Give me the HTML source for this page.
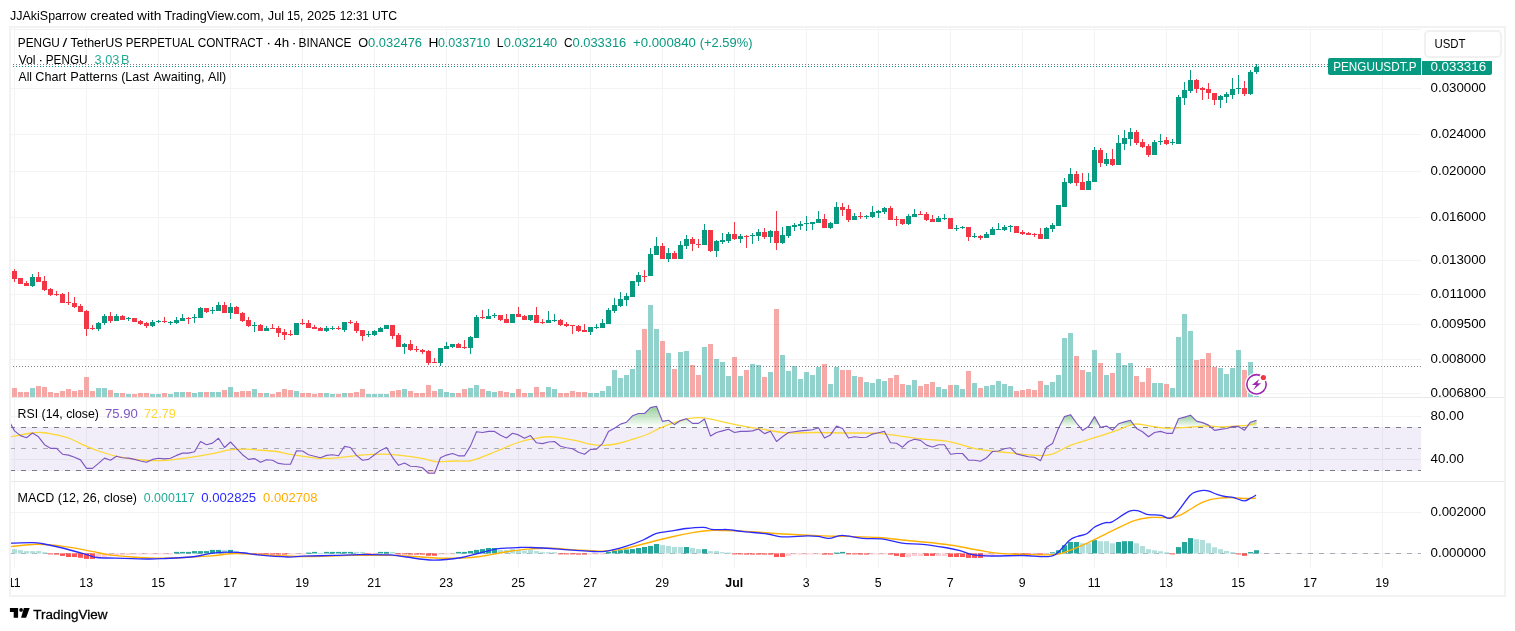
<!DOCTYPE html><html><head><meta charset="utf-8"><title>PENGUUSDT.P chart</title><style>html,body{margin:0;padding:0;background:#fff;width:1515px;height:631px;overflow:hidden}svg{display:block;will-change:transform}text{font-family:"Liberation Sans",sans-serif}</style></head><body><svg width="1515" height="631" viewBox="0 0 1515 631"><defs><clipPath id="timec"><rect x="11" y="568" width="1493" height="27"/></clipPath><clipPath id="pane"><rect x="11" y="28" width="1410" height="540"/></clipPath><clipPath id="mainc"><rect x="11" y="28" width="1410" height="369"/></clipPath><clipPath id="rsic"><rect x="11" y="398" width="1410" height="83"/></clipPath><clipPath id="macdc"><rect x="11" y="482" width="1410" height="86"/></clipPath><linearGradient id="ob" x1="0" y1="0" x2="0" y2="1"><stop offset="0" stop-color="#4caf50" stop-opacity="0.6"/><stop offset="1" stop-color="#4caf50" stop-opacity="0"/></linearGradient></defs><text x="10.11" y="20" font-size="13" fill="#000000" textLength="76.06" lengthAdjust="spacingAndGlyphs">JJAkiSparrow</text><text x="90.28" y="20" font-size="13" fill="#000000" textLength="43.61" lengthAdjust="spacingAndGlyphs">created</text><text x="137.00" y="20" font-size="13" fill="#000000" textLength="24.37" lengthAdjust="spacingAndGlyphs">with</text><text x="164.45" y="20" font-size="13" fill="#000000" textLength="99.36" lengthAdjust="spacingAndGlyphs">TradingView.com,</text><text x="267.81" y="20" font-size="13" fill="#000000" textLength="16.26" lengthAdjust="spacingAndGlyphs">Jul</text><text x="286.91" y="20" font-size="13" fill="#000000" textLength="16.45" lengthAdjust="spacingAndGlyphs">15,</text><text x="306.95" y="20" font-size="13" fill="#000000" textLength="28.86" lengthAdjust="spacingAndGlyphs">2025</text><text x="339.73" y="20" font-size="13" fill="#000000" textLength="29.13" lengthAdjust="spacingAndGlyphs">12:31</text><text x="371.98" y="20" font-size="13" fill="#000000" textLength="25.15" lengthAdjust="spacingAndGlyphs">UTC</text><rect x="10" y="27" width="1495" height="569" fill="none" stroke="#f2f2f2" stroke-width="2"/><rect x="14" y="28" width="1" height="540" fill="#f3f3f3"/><rect x="86" y="28" width="1" height="540" fill="#f3f3f3"/><rect x="158" y="28" width="1" height="540" fill="#f3f3f3"/><rect x="230" y="28" width="1" height="540" fill="#f3f3f3"/><rect x="302" y="28" width="1" height="540" fill="#f3f3f3"/><rect x="374" y="28" width="1" height="540" fill="#f3f3f3"/><rect x="446" y="28" width="1" height="540" fill="#f3f3f3"/><rect x="518" y="28" width="1" height="540" fill="#f3f3f3"/><rect x="590" y="28" width="1" height="540" fill="#f3f3f3"/><rect x="662" y="28" width="1" height="540" fill="#f3f3f3"/><rect x="734" y="28" width="1" height="540" fill="#f3f3f3"/><rect x="806" y="28" width="1" height="540" fill="#f3f3f3"/><rect x="878" y="28" width="1" height="540" fill="#f3f3f3"/><rect x="950" y="28" width="1" height="540" fill="#f3f3f3"/><rect x="1022" y="28" width="1" height="540" fill="#f3f3f3"/><rect x="1094" y="28" width="1" height="540" fill="#f3f3f3"/><rect x="1166" y="28" width="1" height="540" fill="#f3f3f3"/><rect x="1238" y="28" width="1" height="540" fill="#f3f3f3"/><rect x="1310" y="28" width="1" height="540" fill="#f3f3f3"/><rect x="1382" y="28" width="1" height="540" fill="#f3f3f3"/><rect x="11" y="29" width="1410" height="1" fill="#f3f3f3"/><rect x="11" y="88" width="1410" height="1" fill="#f3f3f3"/><rect x="11" y="134" width="1410" height="1" fill="#f3f3f3"/><rect x="11" y="171" width="1410" height="1" fill="#f3f3f3"/><rect x="11" y="217" width="1410" height="1" fill="#f3f3f3"/><rect x="11" y="260" width="1410" height="1" fill="#f3f3f3"/><rect x="11" y="294" width="1410" height="1" fill="#f3f3f3"/><rect x="11" y="324" width="1410" height="1" fill="#f3f3f3"/><rect x="11" y="359" width="1410" height="1" fill="#f3f3f3"/><rect x="11" y="393" width="1410" height="1" fill="#f3f3f3"/><rect x="11" y="416" width="1410" height="1" fill="#f3f3f3"/><rect x="11" y="459" width="1410" height="1" fill="#f3f3f3"/><rect x="11" y="512" width="1410" height="1" fill="#f3f3f3"/><rect x="11" y="553" width="1410" height="1" fill="#f3f3f3"/><rect x="11" y="397" width="1493" height="1" fill="#e9e9ea"/><rect x="11" y="481" width="1493" height="1" fill="#e9e9ea"/><g clip-path="url(#mainc)" shape-rendering="crispEdges"><rect x="6" y="382.1" width="5" height="14.9" fill="rgba(38,166,154,0.5)"/><rect x="12" y="388.0" width="5" height="9.0" fill="rgba(239,83,80,0.5)"/><rect x="18" y="391.9" width="5" height="5.1" fill="rgba(239,83,80,0.5)"/><rect x="24" y="391.9" width="5" height="5.1" fill="rgba(239,83,80,0.5)"/><rect x="30" y="388.0" width="5" height="9.0" fill="rgba(38,166,154,0.5)"/><rect x="36" y="385.9" width="5" height="11.1" fill="rgba(239,83,80,0.5)"/><rect x="42" y="386.9" width="5" height="10.1" fill="rgba(239,83,80,0.5)"/><rect x="48" y="391.9" width="5" height="5.1" fill="rgba(239,83,80,0.5)"/><rect x="54" y="393.0" width="5" height="4.0" fill="rgba(239,83,80,0.5)"/><rect x="60" y="390.8" width="5" height="6.2" fill="rgba(239,83,80,0.5)"/><rect x="66" y="388.9" width="5" height="8.1" fill="rgba(239,83,80,0.5)"/><rect x="72" y="390.8" width="5" height="6.2" fill="rgba(239,83,80,0.5)"/><rect x="78" y="389.9" width="5" height="7.1" fill="rgba(239,83,80,0.5)"/><rect x="84" y="376.9" width="5" height="20.1" fill="rgba(239,83,80,0.5)"/><rect x="90" y="390.8" width="5" height="6.2" fill="rgba(239,83,80,0.5)"/><rect x="96" y="388.0" width="5" height="9.0" fill="rgba(38,166,154,0.5)"/><rect x="102" y="388.0" width="5" height="9.0" fill="rgba(38,166,154,0.5)"/><rect x="108" y="389.9" width="5" height="7.1" fill="rgba(239,83,80,0.5)"/><rect x="114" y="393.0" width="5" height="4.0" fill="rgba(38,166,154,0.5)"/><rect x="120" y="393.0" width="5" height="4.0" fill="rgba(239,83,80,0.5)"/><rect x="126" y="394.0" width="5" height="3.0" fill="rgba(38,166,154,0.5)"/><rect x="132" y="394.0" width="5" height="3.0" fill="rgba(239,83,80,0.5)"/><rect x="138" y="393.0" width="5" height="4.0" fill="rgba(239,83,80,0.5)"/><rect x="144" y="393.0" width="5" height="4.0" fill="rgba(239,83,80,0.5)"/><rect x="150" y="394.0" width="5" height="3.0" fill="rgba(38,166,154,0.5)"/><rect x="156" y="394.0" width="5" height="3.0" fill="rgba(38,166,154,0.5)"/><rect x="162" y="393.0" width="5" height="4.0" fill="rgba(239,83,80,0.5)"/><rect x="168" y="394.0" width="5" height="3.0" fill="rgba(38,166,154,0.5)"/><rect x="174" y="392.0" width="5" height="5.0" fill="rgba(38,166,154,0.5)"/><rect x="180" y="392.0" width="5" height="5.0" fill="rgba(38,166,154,0.5)"/><rect x="186" y="392.0" width="5" height="5.0" fill="rgba(239,83,80,0.5)"/><rect x="192" y="393.0" width="5" height="4.0" fill="rgba(38,166,154,0.5)"/><rect x="198" y="392.0" width="5" height="5.0" fill="rgba(38,166,154,0.5)"/><rect x="204" y="392.0" width="5" height="5.0" fill="rgba(239,83,80,0.5)"/><rect x="210" y="392.0" width="5" height="5.0" fill="rgba(38,166,154,0.5)"/><rect x="216" y="392.0" width="5" height="5.0" fill="rgba(38,166,154,0.5)"/><rect x="222" y="389.9" width="5" height="7.1" fill="rgba(239,83,80,0.5)"/><rect x="228" y="386.9" width="5" height="10.1" fill="rgba(38,166,154,0.5)"/><rect x="234" y="392.0" width="5" height="5.0" fill="rgba(239,83,80,0.5)"/><rect x="240" y="390.8" width="5" height="6.2" fill="rgba(239,83,80,0.5)"/><rect x="246" y="390.8" width="5" height="6.2" fill="rgba(239,83,80,0.5)"/><rect x="252" y="389.0" width="5" height="8.0" fill="rgba(38,166,154,0.5)"/><rect x="258" y="393.0" width="5" height="4.0" fill="rgba(239,83,80,0.5)"/><rect x="264" y="393.0" width="5" height="4.0" fill="rgba(38,166,154,0.5)"/><rect x="270" y="394.0" width="5" height="3.0" fill="rgba(239,83,80,0.5)"/><rect x="276" y="392.0" width="5" height="5.0" fill="rgba(239,83,80,0.5)"/><rect x="282" y="389.0" width="5" height="8.0" fill="rgba(239,83,80,0.5)"/><rect x="288" y="390.0" width="5" height="7.0" fill="rgba(239,83,80,0.5)"/><rect x="294" y="390.8" width="5" height="6.2" fill="rgba(38,166,154,0.5)"/><rect x="300" y="393.0" width="5" height="4.0" fill="rgba(239,83,80,0.5)"/><rect x="306" y="393.0" width="5" height="4.0" fill="rgba(239,83,80,0.5)"/><rect x="312" y="394.0" width="5" height="3.0" fill="rgba(239,83,80,0.5)"/><rect x="318" y="393.0" width="5" height="4.0" fill="rgba(239,83,80,0.5)"/><rect x="324" y="393.0" width="5" height="4.0" fill="rgba(38,166,154,0.5)"/><rect x="330" y="394.0" width="5" height="3.0" fill="rgba(38,166,154,0.5)"/><rect x="336" y="394.0" width="5" height="3.0" fill="rgba(239,83,80,0.5)"/><rect x="342" y="393.0" width="5" height="4.0" fill="rgba(38,166,154,0.5)"/><rect x="348" y="393.0" width="5" height="4.0" fill="rgba(239,83,80,0.5)"/><rect x="354" y="392.0" width="5" height="5.0" fill="rgba(239,83,80,0.5)"/><rect x="360" y="389.0" width="5" height="8.0" fill="rgba(239,83,80,0.5)"/><rect x="366" y="394.0" width="5" height="3.0" fill="rgba(38,166,154,0.5)"/><rect x="372" y="394.0" width="5" height="3.0" fill="rgba(38,166,154,0.5)"/><rect x="378" y="394.0" width="5" height="3.0" fill="rgba(38,166,154,0.5)"/><rect x="384" y="394.0" width="5" height="3.0" fill="rgba(38,166,154,0.5)"/><rect x="390" y="390.8" width="5" height="6.2" fill="rgba(239,83,80,0.5)"/><rect x="396" y="389.9" width="5" height="7.1" fill="rgba(239,83,80,0.5)"/><rect x="402" y="389.0" width="5" height="8.0" fill="rgba(38,166,154,0.5)"/><rect x="408" y="390.8" width="5" height="6.2" fill="rgba(239,83,80,0.5)"/><rect x="414" y="393.0" width="5" height="4.0" fill="rgba(239,83,80,0.5)"/><rect x="420" y="393.0" width="5" height="4.0" fill="rgba(239,83,80,0.5)"/><rect x="426" y="385.0" width="5" height="12.0" fill="rgba(239,83,80,0.5)"/><rect x="432" y="390.8" width="5" height="6.2" fill="rgba(239,83,80,0.5)"/><rect x="438" y="389.0" width="5" height="8.0" fill="rgba(38,166,154,0.5)"/><rect x="444" y="392.0" width="5" height="5.0" fill="rgba(38,166,154,0.5)"/><rect x="450" y="393.0" width="5" height="4.0" fill="rgba(38,166,154,0.5)"/><rect x="456" y="393.0" width="5" height="4.0" fill="rgba(239,83,80,0.5)"/><rect x="462" y="389.0" width="5" height="8.0" fill="rgba(239,83,80,0.5)"/><rect x="468" y="388.0" width="5" height="9.0" fill="rgba(38,166,154,0.5)"/><rect x="474" y="385.0" width="5" height="12.0" fill="rgba(38,166,154,0.5)"/><rect x="480" y="389.1" width="5" height="7.9" fill="rgba(239,83,80,0.5)"/><rect x="486" y="391.2" width="5" height="5.8" fill="rgba(38,166,154,0.5)"/><rect x="492" y="392.1" width="5" height="4.9" fill="rgba(38,166,154,0.5)"/><rect x="498" y="391.2" width="5" height="5.8" fill="rgba(239,83,80,0.5)"/><rect x="504" y="392.1" width="5" height="4.9" fill="rgba(239,83,80,0.5)"/><rect x="510" y="393.1" width="5" height="3.9" fill="rgba(38,166,154,0.5)"/><rect x="516" y="389.1" width="5" height="7.9" fill="rgba(239,83,80,0.5)"/><rect x="522" y="393.1" width="5" height="3.9" fill="rgba(239,83,80,0.5)"/><rect x="528" y="393.1" width="5" height="3.9" fill="rgba(38,166,154,0.5)"/><rect x="534" y="387.0" width="5" height="10.0" fill="rgba(239,83,80,0.5)"/><rect x="540" y="392.1" width="5" height="4.9" fill="rgba(239,83,80,0.5)"/><rect x="546" y="387.0" width="5" height="10.0" fill="rgba(38,166,154,0.5)"/><rect x="552" y="389.1" width="5" height="7.9" fill="rgba(38,166,154,0.5)"/><rect x="558" y="393.1" width="5" height="3.9" fill="rgba(239,83,80,0.5)"/><rect x="564" y="393.1" width="5" height="3.9" fill="rgba(239,83,80,0.5)"/><rect x="570" y="391.2" width="5" height="5.8" fill="rgba(239,83,80,0.5)"/><rect x="576" y="392.1" width="5" height="4.9" fill="rgba(239,83,80,0.5)"/><rect x="582" y="392.1" width="5" height="4.9" fill="rgba(239,83,80,0.5)"/><rect x="588" y="393.1" width="5" height="3.9" fill="rgba(38,166,154,0.5)"/><rect x="594" y="393.1" width="5" height="3.9" fill="rgba(38,166,154,0.5)"/><rect x="600" y="391.2" width="5" height="5.8" fill="rgba(38,166,154,0.5)"/><rect x="606" y="386.1" width="5" height="10.9" fill="rgba(38,166,154,0.5)"/><rect x="612" y="370.1" width="5" height="26.9" fill="rgba(38,166,154,0.5)"/><rect x="618" y="378.0" width="5" height="19.0" fill="rgba(38,166,154,0.5)"/><rect x="624" y="375.0" width="5" height="22.0" fill="rgba(38,166,154,0.5)"/><rect x="630" y="369.0" width="5" height="28.0" fill="rgba(38,166,154,0.5)"/><rect x="636" y="350.1" width="5" height="46.9" fill="rgba(38,166,154,0.5)"/><rect x="642" y="329.0" width="5" height="68.0" fill="rgba(239,83,80,0.5)"/><rect x="648" y="305.1" width="5" height="91.9" fill="rgba(38,166,154,0.5)"/><rect x="654" y="329.0" width="5" height="68.0" fill="rgba(38,166,154,0.5)"/><rect x="660" y="341.1" width="5" height="55.9" fill="rgba(239,83,80,0.5)"/><rect x="666" y="353.1" width="5" height="43.9" fill="rgba(38,166,154,0.5)"/><rect x="672" y="369.0" width="5" height="28.0" fill="rgba(239,83,80,0.5)"/><rect x="678" y="352.0" width="5" height="45.0" fill="rgba(38,166,154,0.5)"/><rect x="684" y="351.0" width="5" height="46.0" fill="rgba(38,166,154,0.5)"/><rect x="690" y="365.0" width="5" height="32.0" fill="rgba(239,83,80,0.5)"/><rect x="696" y="375.0" width="5" height="22.0" fill="rgba(239,83,80,0.5)"/><rect x="702" y="347.1" width="5" height="49.9" fill="rgba(38,166,154,0.5)"/><rect x="708" y="344.1" width="5" height="52.9" fill="rgba(239,83,80,0.5)"/><rect x="714" y="359.0" width="5" height="38.0" fill="rgba(38,166,154,0.5)"/><rect x="720" y="362.1" width="5" height="34.9" fill="rgba(38,166,154,0.5)"/><rect x="726" y="376.1" width="5" height="20.9" fill="rgba(38,166,154,0.5)"/><rect x="732" y="357.1" width="5" height="39.9" fill="rgba(239,83,80,0.5)"/><rect x="738" y="376.1" width="5" height="20.9" fill="rgba(38,166,154,0.5)"/><rect x="744" y="370.1" width="5" height="26.9" fill="rgba(239,83,80,0.5)"/><rect x="750" y="364.0" width="5" height="33.0" fill="rgba(38,166,154,0.5)"/><rect x="756" y="365.0" width="5" height="32.0" fill="rgba(38,166,154,0.5)"/><rect x="762" y="377.0" width="5" height="20.0" fill="rgba(239,83,80,0.5)"/><rect x="768" y="372.1" width="5" height="24.9" fill="rgba(38,166,154,0.5)"/><rect x="774" y="309.0" width="5" height="88.0" fill="rgba(239,83,80,0.5)"/><rect x="780" y="355.0" width="5" height="42.0" fill="rgba(38,166,154,0.5)"/><rect x="786" y="371.0" width="5" height="26.0" fill="rgba(38,166,154,0.5)"/><rect x="792" y="366.1" width="5" height="30.9" fill="rgba(38,166,154,0.5)"/><rect x="798" y="379.0" width="5" height="18.0" fill="rgba(38,166,154,0.5)"/><rect x="804" y="372.1" width="5" height="24.9" fill="rgba(38,166,154,0.5)"/><rect x="810" y="375.0" width="5" height="22.0" fill="rgba(38,166,154,0.5)"/><rect x="816" y="367.1" width="5" height="29.9" fill="rgba(38,166,154,0.5)"/><rect x="822" y="364.0" width="5" height="33.0" fill="rgba(239,83,80,0.5)"/><rect x="828" y="384.0" width="5" height="13.0" fill="rgba(38,166,154,0.5)"/><rect x="834" y="367.1" width="5" height="29.9" fill="rgba(38,166,154,0.5)"/><rect x="840" y="370.1" width="5" height="26.9" fill="rgba(239,83,80,0.5)"/><rect x="846" y="370.1" width="5" height="26.9" fill="rgba(239,83,80,0.5)"/><rect x="852" y="376.1" width="5" height="20.9" fill="rgba(38,166,154,0.5)"/><rect x="858" y="377.0" width="5" height="20.0" fill="rgba(239,83,80,0.5)"/><rect x="864" y="382.1" width="5" height="14.9" fill="rgba(38,166,154,0.5)"/><rect x="870" y="382.9" width="5" height="14.1" fill="rgba(38,166,154,0.5)"/><rect x="876" y="379.0" width="5" height="18.0" fill="rgba(38,166,154,0.5)"/><rect x="882" y="381.0" width="5" height="16.0" fill="rgba(38,166,154,0.5)"/><rect x="888" y="378.0" width="5" height="19.0" fill="rgba(239,83,80,0.5)"/><rect x="894" y="375.0" width="5" height="22.0" fill="rgba(239,83,80,0.5)"/><rect x="900" y="384.0" width="5" height="13.0" fill="rgba(239,83,80,0.5)"/><rect x="906" y="385.0" width="5" height="12.0" fill="rgba(38,166,154,0.5)"/><rect x="912" y="380.1" width="5" height="16.9" fill="rgba(38,166,154,0.5)"/><rect x="918" y="385.9" width="5" height="11.1" fill="rgba(239,83,80,0.5)"/><rect x="924" y="384.0" width="5" height="13.0" fill="rgba(239,83,80,0.5)"/><rect x="930" y="382.1" width="5" height="14.9" fill="rgba(239,83,80,0.5)"/><rect x="936" y="387.0" width="5" height="10.0" fill="rgba(38,166,154,0.5)"/><rect x="942" y="389.1" width="5" height="7.9" fill="rgba(38,166,154,0.5)"/><rect x="948" y="385.0" width="5" height="12.0" fill="rgba(239,83,80,0.5)"/><rect x="954" y="385.0" width="5" height="12.0" fill="rgba(38,166,154,0.5)"/><rect x="960" y="389.1" width="5" height="7.9" fill="rgba(38,166,154,0.5)"/><rect x="966" y="371.0" width="5" height="26.0" fill="rgba(239,83,80,0.5)"/><rect x="972" y="382.9" width="5" height="14.1" fill="rgba(38,166,154,0.5)"/><rect x="978" y="388.0" width="5" height="9.0" fill="rgba(239,83,80,0.5)"/><rect x="984" y="386.1" width="5" height="10.9" fill="rgba(38,166,154,0.5)"/><rect x="990" y="385.0" width="5" height="12.0" fill="rgba(38,166,154,0.5)"/><rect x="996" y="381.0" width="5" height="16.0" fill="rgba(38,166,154,0.5)"/><rect x="1002" y="384.0" width="5" height="13.0" fill="rgba(38,166,154,0.5)"/><rect x="1008" y="386.1" width="5" height="10.9" fill="rgba(38,166,154,0.5)"/><rect x="1014" y="391.0" width="5" height="6.0" fill="rgba(239,83,80,0.5)"/><rect x="1020" y="390.0" width="5" height="7.0" fill="rgba(239,83,80,0.5)"/><rect x="1026" y="389.1" width="5" height="7.9" fill="rgba(239,83,80,0.5)"/><rect x="1032" y="390.0" width="5" height="7.0" fill="rgba(239,83,80,0.5)"/><rect x="1038" y="381.0" width="5" height="16.0" fill="rgba(239,83,80,0.5)"/><rect x="1044" y="385.0" width="5" height="12.0" fill="rgba(38,166,154,0.5)"/><rect x="1050" y="382.1" width="5" height="14.9" fill="rgba(38,166,154,0.5)"/><rect x="1056" y="375.0" width="5" height="22.0" fill="rgba(38,166,154,0.5)"/><rect x="1062" y="338.0" width="5" height="59.0" fill="rgba(38,166,154,0.5)"/><rect x="1068" y="333.0" width="5" height="64.0" fill="rgba(38,166,154,0.5)"/><rect x="1074" y="356.0" width="5" height="41.0" fill="rgba(239,83,80,0.5)"/><rect x="1080" y="370.1" width="5" height="26.9" fill="rgba(239,83,80,0.5)"/><rect x="1086" y="372.1" width="5" height="24.9" fill="rgba(38,166,154,0.5)"/><rect x="1092" y="350.1" width="5" height="46.9" fill="rgba(38,166,154,0.5)"/><rect x="1098" y="363.1" width="5" height="33.9" fill="rgba(239,83,80,0.5)"/><rect x="1104" y="375.0" width="5" height="22.0" fill="rgba(38,166,154,0.5)"/><rect x="1110" y="373.1" width="5" height="23.9" fill="rgba(239,83,80,0.5)"/><rect x="1116" y="353.1" width="5" height="43.9" fill="rgba(38,166,154,0.5)"/><rect x="1122" y="365.0" width="5" height="32.0" fill="rgba(38,166,154,0.5)"/><rect x="1128" y="363.1" width="5" height="33.9" fill="rgba(38,166,154,0.5)"/><rect x="1134" y="376.1" width="5" height="20.9" fill="rgba(239,83,80,0.5)"/><rect x="1140" y="382.1" width="5" height="14.9" fill="rgba(239,83,80,0.5)"/><rect x="1146" y="368.0" width="5" height="29.0" fill="rgba(239,83,80,0.5)"/><rect x="1152" y="382.9" width="5" height="14.1" fill="rgba(38,166,154,0.5)"/><rect x="1158" y="382.9" width="5" height="14.1" fill="rgba(38,166,154,0.5)"/><rect x="1164" y="384.0" width="5" height="13.0" fill="rgba(239,83,80,0.5)"/><rect x="1170" y="388.0" width="5" height="9.0" fill="rgba(38,166,154,0.5)"/><rect x="1176" y="337.1" width="5" height="59.9" fill="rgba(38,166,154,0.5)"/><rect x="1182" y="314.0" width="5" height="83.0" fill="rgba(38,166,154,0.5)"/><rect x="1188" y="331.1" width="5" height="65.9" fill="rgba(38,166,154,0.5)"/><rect x="1194" y="360.0" width="5" height="37.0" fill="rgba(239,83,80,0.5)"/><rect x="1200" y="359.1" width="5" height="37.9" fill="rgba(239,83,80,0.5)"/><rect x="1206" y="353.1" width="5" height="43.9" fill="rgba(239,83,80,0.5)"/><rect x="1212" y="367.2" width="5" height="29.8" fill="rgba(239,83,80,0.5)"/><rect x="1218" y="368.1" width="5" height="28.9" fill="rgba(38,166,154,0.5)"/><rect x="1224" y="374.1" width="5" height="22.9" fill="rgba(38,166,154,0.5)"/><rect x="1230" y="368.1" width="5" height="28.9" fill="rgba(38,166,154,0.5)"/><rect x="1236" y="350.0" width="5" height="47.0" fill="rgba(38,166,154,0.5)"/><rect x="1242" y="370.0" width="5" height="27.0" fill="rgba(239,83,80,0.5)"/><rect x="1248" y="362.0" width="5" height="35.0" fill="rgba(38,166,154,0.5)"/><rect x="1254" y="396.3" width="5" height="0.7" fill="rgba(38,166,154,0.5)"/><line x1="10" y1="64.5" x2="1421" y2="64.5" stroke="#808080" stroke-width="1" stroke-dasharray="1 2"/><line x1="10" y1="366.5" x2="1421" y2="366.5" stroke="#808080" stroke-width="1" stroke-dasharray="1 2"/><rect x="14" y="269.0" width="1" height="13.0" fill="#f23645"/><rect x="12" y="270.9" width="5" height="7.6" fill="#f23645"/><rect x="20" y="278.1" width="1" height="5.7" fill="#f23645"/><rect x="18" y="278.1" width="5" height="5.7" fill="#f23645"/><rect x="26" y="281.0" width="1" height="4.8" fill="#f23645"/><rect x="24" y="283.3" width="5" height="2.5" fill="#f23645"/><rect x="32" y="274.0" width="1" height="13.0" fill="#089981"/><rect x="30" y="277.0" width="5" height="8.8" fill="#089981"/><rect x="38" y="271.9" width="1" height="9.8" fill="#f23645"/><rect x="36" y="277.0" width="5" height="4.7" fill="#f23645"/><rect x="44" y="276.0" width="1" height="14.9" fill="#f23645"/><rect x="42" y="281.0" width="5" height="8.7" fill="#f23645"/><rect x="50" y="288.0" width="1" height="8.0" fill="#f23645"/><rect x="48" y="288.9" width="5" height="6.3" fill="#f23645"/><rect x="56" y="291.0" width="1" height="5.0" fill="#f23645"/><rect x="54" y="294.0" width="5" height="1.0" fill="#f23645"/><rect x="62" y="292.8" width="1" height="10.0" fill="#f23645"/><rect x="60" y="293.7" width="5" height="9.1" fill="#f23645"/><rect x="68" y="291.8" width="1" height="13.1" fill="#f23645"/><rect x="66" y="302.0" width="5" height="1.0" fill="#f23645"/><rect x="74" y="296.9" width="1" height="11.1" fill="#f23645"/><rect x="72" y="302.8" width="5" height="4.2" fill="#f23645"/><rect x="80" y="304.0" width="1" height="7.7" fill="#f23645"/><rect x="78" y="306.0" width="5" height="5.7" fill="#f23645"/><rect x="86" y="310.2" width="1" height="25.8" fill="#f23645"/><rect x="84" y="311.1" width="5" height="17.8" fill="#f23645"/><rect x="92" y="325.0" width="1" height="4.9" fill="#f23645"/><rect x="90" y="327.7" width="5" height="1.3" fill="#f23645"/><rect x="98" y="321.9" width="1" height="9.2" fill="#089981"/><rect x="96" y="323.0" width="5" height="5.9" fill="#089981"/><rect x="104" y="314.0" width="1" height="10.8" fill="#089981"/><rect x="102" y="316.3" width="5" height="6.6" fill="#089981"/><rect x="110" y="312.0" width="1" height="10.9" fill="#f23645"/><rect x="108" y="316.3" width="5" height="4.3" fill="#f23645"/><rect x="116" y="314.0" width="1" height="7.0" fill="#089981"/><rect x="114" y="316.3" width="5" height="4.3" fill="#089981"/><rect x="122" y="315.0" width="1" height="4.7" fill="#f23645"/><rect x="120" y="316.3" width="5" height="3.4" fill="#f23645"/><rect x="128" y="317.0" width="1" height="4.0" fill="#089981"/><rect x="126" y="318.0" width="5" height="1.0" fill="#089981"/><rect x="134" y="318.1" width="1" height="3.8" fill="#f23645"/><rect x="132" y="318.1" width="5" height="3.8" fill="#f23645"/><rect x="140" y="320.2" width="1" height="4.8" fill="#f23645"/><rect x="138" y="320.9" width="5" height="2.9" fill="#f23645"/><rect x="146" y="322.1" width="1" height="5.7" fill="#f23645"/><rect x="144" y="322.8" width="5" height="2.9" fill="#f23645"/><rect x="152" y="320.2" width="1" height="6.7" fill="#089981"/><rect x="150" y="322.1" width="5" height="3.9" fill="#089981"/><rect x="158" y="320.0" width="1" height="2.8" fill="#089981"/><rect x="156" y="320.9" width="5" height="1.0" fill="#089981"/><rect x="164" y="317.1" width="1" height="5.7" fill="#f23645"/><rect x="162" y="321.0" width="5" height="1.0" fill="#f23645"/><rect x="170" y="321.0" width="1" height="4.0" fill="#089981"/><rect x="168" y="322.1" width="5" height="1.0" fill="#089981"/><rect x="176" y="317.1" width="1" height="6.7" fill="#089981"/><rect x="174" y="320.2" width="5" height="2.6" fill="#089981"/><rect x="182" y="314.0" width="1" height="6.9" fill="#089981"/><rect x="180" y="318.0" width="5" height="2.9" fill="#089981"/><rect x="188" y="317.1" width="1" height="6.7" fill="#f23645"/><rect x="186" y="317.8" width="5" height="1.0" fill="#f23645"/><rect x="194" y="314.0" width="1" height="8.8" fill="#089981"/><rect x="192" y="316.8" width="5" height="1.2" fill="#089981"/><rect x="200" y="307.1" width="1" height="10.7" fill="#089981"/><rect x="198" y="307.9" width="5" height="9.9" fill="#089981"/><rect x="206" y="308.0" width="1" height="4.8" fill="#f23645"/><rect x="204" y="308.0" width="5" height="3.9" fill="#f23645"/><rect x="212" y="307.1" width="1" height="6.7" fill="#089981"/><rect x="210" y="310.0" width="5" height="1.4" fill="#089981"/><rect x="218" y="302.2" width="1" height="8.5" fill="#089981"/><rect x="216" y="305.0" width="5" height="5.7" fill="#089981"/><rect x="224" y="302.2" width="1" height="10.6" fill="#f23645"/><rect x="222" y="305.0" width="5" height="7.8" fill="#f23645"/><rect x="230" y="303.1" width="1" height="15.6" fill="#089981"/><rect x="228" y="307.1" width="5" height="5.7" fill="#089981"/><rect x="236" y="306.2" width="1" height="7.4" fill="#f23645"/><rect x="234" y="306.9" width="5" height="6.7" fill="#f23645"/><rect x="242" y="312.0" width="1" height="9.9" fill="#f23645"/><rect x="240" y="313.0" width="5" height="7.9" fill="#f23645"/><rect x="248" y="317.1" width="1" height="9.7" fill="#f23645"/><rect x="246" y="320.0" width="5" height="5.9" fill="#f23645"/><rect x="254" y="322.1" width="1" height="9.8" fill="#089981"/><rect x="252" y="324.9" width="5" height="1.0" fill="#089981"/><rect x="260" y="324.2" width="1" height="6.4" fill="#f23645"/><rect x="258" y="324.9" width="5" height="5.7" fill="#f23645"/><rect x="266" y="325.9" width="1" height="4.7" fill="#089981"/><rect x="264" y="328.0" width="5" height="2.6" fill="#089981"/><rect x="272" y="324.0" width="1" height="4.7" fill="#f23645"/><rect x="270" y="327.8" width="5" height="1.0" fill="#f23645"/><rect x="278" y="326.1" width="1" height="10.8" fill="#f23645"/><rect x="276" y="328.0" width="5" height="4.8" fill="#f23645"/><rect x="284" y="329.3" width="1" height="10.4" fill="#f23645"/><rect x="282" y="332.1" width="5" height="2.6" fill="#f23645"/><rect x="290" y="330.2" width="1" height="5.7" fill="#f23645"/><rect x="288" y="333.8" width="5" height="1.0" fill="#f23645"/><rect x="296" y="323.0" width="1" height="11.7" fill="#089981"/><rect x="294" y="323.0" width="5" height="11.7" fill="#089981"/><rect x="302" y="319.0" width="1" height="5.9" fill="#f23645"/><rect x="300" y="322.6" width="5" height="1.2" fill="#f23645"/><rect x="308" y="320.0" width="1" height="7.8" fill="#f23645"/><rect x="306" y="323.0" width="5" height="4.8" fill="#f23645"/><rect x="314" y="324.9" width="1" height="3.8" fill="#f23645"/><rect x="312" y="327.1" width="5" height="1.6" fill="#f23645"/><rect x="320" y="327.1" width="1" height="3.5" fill="#f23645"/><rect x="318" y="328.0" width="5" height="2.6" fill="#f23645"/><rect x="326" y="325.9" width="1" height="6.0" fill="#089981"/><rect x="324" y="328.0" width="5" height="2.6" fill="#089981"/><rect x="332" y="325.9" width="1" height="3.8" fill="#089981"/><rect x="330" y="327.8" width="5" height="1.0" fill="#089981"/><rect x="338" y="325.9" width="1" height="3.8" fill="#f23645"/><rect x="336" y="327.8" width="5" height="1.0" fill="#f23645"/><rect x="344" y="322.1" width="1" height="9.8" fill="#089981"/><rect x="342" y="322.1" width="5" height="7.6" fill="#089981"/><rect x="350" y="320.0" width="1" height="3.8" fill="#f23645"/><rect x="348" y="321.7" width="5" height="1.1" fill="#f23645"/><rect x="356" y="321.1" width="1" height="11.7" fill="#f23645"/><rect x="354" y="323.3" width="5" height="7.3" fill="#f23645"/><rect x="362" y="330.0" width="1" height="10.9" fill="#f23645"/><rect x="360" y="330.0" width="5" height="5.7" fill="#f23645"/><rect x="368" y="331.1" width="1" height="5.7" fill="#089981"/><rect x="366" y="334.0" width="5" height="1.0" fill="#089981"/><rect x="374" y="330.0" width="1" height="5.9" fill="#089981"/><rect x="372" y="331.1" width="5" height="3.8" fill="#089981"/><rect x="380" y="326.9" width="1" height="5.0" fill="#089981"/><rect x="378" y="328.1" width="5" height="3.8" fill="#089981"/><rect x="386" y="325.0" width="1" height="3.8" fill="#089981"/><rect x="384" y="325.0" width="5" height="3.8" fill="#089981"/><rect x="392" y="325.0" width="1" height="13.7" fill="#f23645"/><rect x="390" y="325.0" width="5" height="10.7" fill="#f23645"/><rect x="398" y="333.0" width="1" height="13.9" fill="#f23645"/><rect x="396" y="335.2" width="5" height="11.7" fill="#f23645"/><rect x="404" y="343.1" width="1" height="10.8" fill="#089981"/><rect x="402" y="343.8" width="5" height="3.1" fill="#089981"/><rect x="410" y="340.2" width="1" height="10.5" fill="#f23645"/><rect x="408" y="344.0" width="5" height="5.7" fill="#f23645"/><rect x="416" y="345.9" width="1" height="5.9" fill="#f23645"/><rect x="414" y="348.8" width="5" height="1.0" fill="#f23645"/><rect x="422" y="349.0" width="1" height="4.9" fill="#f23645"/><rect x="420" y="350.1" width="5" height="1.7" fill="#f23645"/><rect x="428" y="350.1" width="1" height="14.9" fill="#f23645"/><rect x="426" y="351.1" width="5" height="11.7" fill="#f23645"/><rect x="434" y="358.0" width="1" height="4.8" fill="#f23645"/><rect x="432" y="361.8" width="5" height="1.0" fill="#f23645"/><rect x="440" y="348.0" width="1" height="17.9" fill="#089981"/><rect x="438" y="348.0" width="5" height="14.8" fill="#089981"/><rect x="446" y="342.1" width="1" height="6.7" fill="#089981"/><rect x="444" y="346.1" width="5" height="2.7" fill="#089981"/><rect x="452" y="344.0" width="1" height="3.8" fill="#089981"/><rect x="450" y="344.0" width="5" height="2.9" fill="#089981"/><rect x="458" y="343.1" width="1" height="4.7" fill="#f23645"/><rect x="456" y="344.0" width="5" height="3.8" fill="#f23645"/><rect x="464" y="340.2" width="1" height="8.6" fill="#f23645"/><rect x="462" y="347.1" width="5" height="1.0" fill="#f23645"/><rect x="470" y="335.9" width="1" height="18.0" fill="#089981"/><rect x="468" y="337.1" width="5" height="10.7" fill="#089981"/><rect x="476" y="315.0" width="1" height="22.8" fill="#089981"/><rect x="474" y="317.1" width="5" height="20.7" fill="#089981"/><rect x="482" y="310.0" width="1" height="8.8" fill="#f23645"/><rect x="480" y="317.1" width="5" height="1.0" fill="#f23645"/><rect x="488" y="309.1" width="1" height="9.7" fill="#089981"/><rect x="486" y="316.1" width="5" height="2.7" fill="#089981"/><rect x="494" y="313.0" width="1" height="4.8" fill="#089981"/><rect x="492" y="314.8" width="5" height="1.0" fill="#089981"/><rect x="500" y="315.2" width="1" height="5.5" fill="#f23645"/><rect x="498" y="315.2" width="5" height="4.7" fill="#f23645"/><rect x="506" y="314.0" width="1" height="8.8" fill="#f23645"/><rect x="504" y="319.2" width="5" height="3.6" fill="#f23645"/><rect x="512" y="314.0" width="1" height="8.8" fill="#089981"/><rect x="510" y="314.0" width="5" height="8.8" fill="#089981"/><rect x="518" y="307.2" width="1" height="9.5" fill="#f23645"/><rect x="516" y="314.0" width="5" height="2.7" fill="#f23645"/><rect x="524" y="315.2" width="1" height="4.5" fill="#f23645"/><rect x="522" y="315.9" width="5" height="3.8" fill="#f23645"/><rect x="530" y="315.2" width="1" height="5.5" fill="#089981"/><rect x="528" y="315.2" width="5" height="4.7" fill="#089981"/><rect x="536" y="307.2" width="1" height="15.6" fill="#f23645"/><rect x="534" y="315.2" width="5" height="7.6" fill="#f23645"/><rect x="542" y="319.2" width="1" height="4.5" fill="#f23645"/><rect x="540" y="321.8" width="5" height="1.0" fill="#f23645"/><rect x="548" y="311.0" width="1" height="11.8" fill="#089981"/><rect x="546" y="319.9" width="5" height="2.9" fill="#089981"/><rect x="554" y="314.0" width="1" height="7.8" fill="#089981"/><rect x="552" y="319.9" width="5" height="1.0" fill="#089981"/><rect x="560" y="318.8" width="1" height="7.1" fill="#f23645"/><rect x="558" y="319.9" width="5" height="5.1" fill="#f23645"/><rect x="566" y="322.1" width="1" height="4.8" fill="#f23645"/><rect x="564" y="324.3" width="5" height="1.3" fill="#f23645"/><rect x="572" y="325.2" width="1" height="8.6" fill="#f23645"/><rect x="570" y="325.2" width="5" height="1.0" fill="#f23645"/><rect x="578" y="325.2" width="1" height="6.7" fill="#f23645"/><rect x="576" y="325.9" width="5" height="5.0" fill="#f23645"/><rect x="584" y="324.0" width="1" height="7.9" fill="#f23645"/><rect x="582" y="330.2" width="5" height="1.7" fill="#f23645"/><rect x="590" y="327.3" width="1" height="7.4" fill="#089981"/><rect x="588" y="327.3" width="5" height="4.2" fill="#089981"/><rect x="596" y="324.2" width="1" height="4.9" fill="#089981"/><rect x="594" y="326.8" width="5" height="1.2" fill="#089981"/><rect x="602" y="319.3" width="1" height="8.4" fill="#089981"/><rect x="600" y="323.3" width="5" height="4.4" fill="#089981"/><rect x="608" y="308.1" width="1" height="15.7" fill="#089981"/><rect x="606" y="310.2" width="5" height="13.6" fill="#089981"/><rect x="614" y="298.0" width="1" height="14.9" fill="#089981"/><rect x="612" y="305.4" width="5" height="5.7" fill="#089981"/><rect x="620" y="291.9" width="1" height="15.2" fill="#089981"/><rect x="618" y="299.4" width="5" height="6.5" fill="#089981"/><rect x="626" y="293.1" width="1" height="12.8" fill="#089981"/><rect x="624" y="296.3" width="5" height="3.5" fill="#089981"/><rect x="632" y="280.9" width="1" height="16.3" fill="#089981"/><rect x="630" y="280.9" width="5" height="16.3" fill="#089981"/><rect x="638" y="271.9" width="1" height="13.9" fill="#089981"/><rect x="636" y="275.0" width="5" height="7.0" fill="#089981"/><rect x="644" y="270.1" width="1" height="11.9" fill="#f23645"/><rect x="642" y="275.7" width="5" height="1.0" fill="#f23645"/><rect x="650" y="247.8" width="1" height="27.9" fill="#089981"/><rect x="648" y="254.1" width="5" height="21.6" fill="#089981"/><rect x="656" y="237.0" width="1" height="18.3" fill="#089981"/><rect x="654" y="246.0" width="5" height="9.3" fill="#089981"/><rect x="662" y="242.6" width="1" height="16.2" fill="#f23645"/><rect x="660" y="246.0" width="5" height="12.8" fill="#f23645"/><rect x="668" y="247.8" width="1" height="13.9" fill="#089981"/><rect x="666" y="253.0" width="5" height="5.8" fill="#089981"/><rect x="674" y="251.3" width="1" height="7.5" fill="#f23645"/><rect x="672" y="253.0" width="5" height="5.8" fill="#f23645"/><rect x="680" y="241.3" width="1" height="17.5" fill="#089981"/><rect x="678" y="245.3" width="5" height="13.5" fill="#089981"/><rect x="686" y="235.2" width="1" height="13.6" fill="#089981"/><rect x="684" y="239.1" width="5" height="6.6" fill="#089981"/><rect x="692" y="237.3" width="1" height="13.3" fill="#f23645"/><rect x="690" y="239.1" width="5" height="5.2" fill="#f23645"/><rect x="698" y="239.0" width="1" height="8.8" fill="#f23645"/><rect x="696" y="244.0" width="5" height="1.3" fill="#f23645"/><rect x="704" y="224.2" width="1" height="20.5" fill="#089981"/><rect x="702" y="230.2" width="5" height="14.5" fill="#089981"/><rect x="710" y="230.2" width="1" height="21.6" fill="#f23645"/><rect x="708" y="230.2" width="5" height="20.7" fill="#f23645"/><rect x="716" y="240.1" width="1" height="16.8" fill="#089981"/><rect x="714" y="241.1" width="5" height="9.8" fill="#089981"/><rect x="722" y="233.1" width="1" height="10.8" fill="#089981"/><rect x="720" y="240.1" width="5" height="1.7" fill="#089981"/><rect x="728" y="232.1" width="1" height="10.7" fill="#089981"/><rect x="726" y="234.0" width="5" height="6.7" fill="#089981"/><rect x="734" y="222.1" width="1" height="17.6" fill="#f23645"/><rect x="732" y="234.0" width="5" height="4.8" fill="#f23645"/><rect x="740" y="234.0" width="1" height="8.8" fill="#089981"/><rect x="738" y="236.1" width="5" height="2.7" fill="#089981"/><rect x="746" y="235.0" width="1" height="12.7" fill="#f23645"/><rect x="744" y="235.9" width="5" height="1.0" fill="#f23645"/><rect x="752" y="233.1" width="1" height="10.6" fill="#089981"/><rect x="750" y="235.0" width="5" height="1.0" fill="#089981"/><rect x="758" y="229.0" width="1" height="11.9" fill="#089981"/><rect x="756" y="232.1" width="5" height="3.8" fill="#089981"/><rect x="764" y="228.0" width="1" height="10.8" fill="#f23645"/><rect x="762" y="232.1" width="5" height="4.5" fill="#f23645"/><rect x="770" y="230.2" width="1" height="12.6" fill="#089981"/><rect x="768" y="230.9" width="5" height="6.0" fill="#089981"/><rect x="776" y="211.2" width="1" height="38.4" fill="#f23645"/><rect x="774" y="230.9" width="5" height="11.9" fill="#f23645"/><rect x="782" y="227.1" width="1" height="16.6" fill="#089981"/><rect x="780" y="235.2" width="5" height="7.6" fill="#089981"/><rect x="788" y="225.9" width="1" height="11.7" fill="#089981"/><rect x="786" y="225.9" width="5" height="10.0" fill="#089981"/><rect x="794" y="223.0" width="1" height="7.9" fill="#089981"/><rect x="792" y="224.9" width="5" height="1.9" fill="#089981"/><rect x="800" y="221.1" width="1" height="8.9" fill="#089981"/><rect x="798" y="224.0" width="5" height="1.9" fill="#089981"/><rect x="806" y="216.2" width="1" height="14.7" fill="#089981"/><rect x="804" y="222.8" width="5" height="1.0" fill="#089981"/><rect x="812" y="222.1" width="1" height="7.9" fill="#089981"/><rect x="810" y="222.1" width="5" height="1.5" fill="#089981"/><rect x="818" y="211.2" width="1" height="11.6" fill="#089981"/><rect x="816" y="219.0" width="5" height="3.8" fill="#089981"/><rect x="824" y="214.0" width="1" height="13.8" fill="#f23645"/><rect x="822" y="219.2" width="5" height="8.6" fill="#f23645"/><rect x="830" y="222.1" width="1" height="6.7" fill="#089981"/><rect x="828" y="223.0" width="5" height="4.8" fill="#089981"/><rect x="836" y="201.8" width="1" height="21.9" fill="#089981"/><rect x="834" y="207.2" width="5" height="16.5" fill="#089981"/><rect x="842" y="203.1" width="1" height="12.6" fill="#f23645"/><rect x="840" y="207.2" width="5" height="2.5" fill="#f23645"/><rect x="848" y="205.0" width="1" height="16.8" fill="#f23645"/><rect x="846" y="209.1" width="5" height="10.8" fill="#f23645"/><rect x="854" y="213.1" width="1" height="6.8" fill="#089981"/><rect x="852" y="216.1" width="5" height="3.8" fill="#089981"/><rect x="860" y="212.1" width="1" height="6.7" fill="#f23645"/><rect x="858" y="216.1" width="5" height="1.0" fill="#f23645"/><rect x="866" y="215.0" width="1" height="3.8" fill="#089981"/><rect x="864" y="216.1" width="5" height="1.0" fill="#089981"/><rect x="872" y="206.2" width="1" height="11.6" fill="#089981"/><rect x="870" y="212.1" width="5" height="4.8" fill="#089981"/><rect x="878" y="210.2" width="1" height="7.6" fill="#089981"/><rect x="876" y="211.4" width="5" height="1.2" fill="#089981"/><rect x="884" y="207.2" width="1" height="6.6" fill="#089981"/><rect x="882" y="208.1" width="5" height="3.5" fill="#089981"/><rect x="890" y="206.2" width="1" height="13.7" fill="#f23645"/><rect x="888" y="208.1" width="5" height="11.8" fill="#f23645"/><rect x="896" y="216.1" width="1" height="9.8" fill="#f23645"/><rect x="894" y="219.0" width="5" height="1.0" fill="#f23645"/><rect x="902" y="219.2" width="1" height="5.5" fill="#f23645"/><rect x="900" y="219.2" width="5" height="4.5" fill="#f23645"/><rect x="908" y="214.0" width="1" height="10.7" fill="#089981"/><rect x="906" y="216.1" width="5" height="7.6" fill="#089981"/><rect x="914" y="209.1" width="1" height="7.6" fill="#089981"/><rect x="912" y="214.0" width="5" height="2.7" fill="#089981"/><rect x="920" y="211.2" width="1" height="3.8" fill="#f23645"/><rect x="918" y="214.0" width="5" height="1.0" fill="#f23645"/><rect x="926" y="212.1" width="1" height="8.8" fill="#f23645"/><rect x="924" y="214.0" width="5" height="5.9" fill="#f23645"/><rect x="932" y="215.2" width="1" height="6.6" fill="#f23645"/><rect x="930" y="219.2" width="5" height="2.6" fill="#f23645"/><rect x="938" y="216.2" width="1" height="5.5" fill="#089981"/><rect x="936" y="218.1" width="5" height="3.6" fill="#089981"/><rect x="944" y="214.1" width="1" height="5.9" fill="#089981"/><rect x="942" y="217.6" width="5" height="1.2" fill="#089981"/><rect x="950" y="218.1" width="1" height="10.6" fill="#f23645"/><rect x="948" y="218.1" width="5" height="10.6" fill="#f23645"/><rect x="956" y="224.9" width="1" height="6.0" fill="#089981"/><rect x="954" y="227.6" width="5" height="1.1" fill="#089981"/><rect x="962" y="225.9" width="1" height="2.8" fill="#089981"/><rect x="960" y="227.1" width="5" height="1.0" fill="#089981"/><rect x="968" y="227.1" width="1" height="13.8" fill="#f23645"/><rect x="966" y="227.1" width="5" height="9.5" fill="#f23645"/><rect x="974" y="233.1" width="1" height="4.7" fill="#089981"/><rect x="972" y="235.7" width="5" height="1.2" fill="#089981"/><rect x="980" y="235.2" width="1" height="4.7" fill="#f23645"/><rect x="978" y="236.1" width="5" height="1.5" fill="#f23645"/><rect x="986" y="232.1" width="1" height="5.7" fill="#089981"/><rect x="984" y="234.0" width="5" height="3.8" fill="#089981"/><rect x="992" y="227.1" width="1" height="7.6" fill="#089981"/><rect x="990" y="229.0" width="5" height="5.7" fill="#089981"/><rect x="998" y="223.0" width="1" height="7.0" fill="#089981"/><rect x="996" y="229.0" width="5" height="1.0" fill="#089981"/><rect x="1004" y="224.9" width="1" height="6.0" fill="#089981"/><rect x="1002" y="227.1" width="5" height="3.1" fill="#089981"/><rect x="1010" y="224.9" width="1" height="7.0" fill="#089981"/><rect x="1008" y="225.9" width="5" height="1.0" fill="#089981"/><rect x="1016" y="226.1" width="1" height="6.7" fill="#f23645"/><rect x="1014" y="226.1" width="5" height="6.7" fill="#f23645"/><rect x="1022" y="230.2" width="1" height="4.8" fill="#f23645"/><rect x="1020" y="232.1" width="5" height="1.7" fill="#f23645"/><rect x="1028" y="232.1" width="1" height="2.6" fill="#f23645"/><rect x="1026" y="233.1" width="5" height="1.6" fill="#f23645"/><rect x="1034" y="232.8" width="1" height="4.1" fill="#f23645"/><rect x="1032" y="233.8" width="5" height="1.0" fill="#f23645"/><rect x="1040" y="228.0" width="1" height="10.8" fill="#f23645"/><rect x="1038" y="234.0" width="5" height="4.8" fill="#f23645"/><rect x="1046" y="227.1" width="1" height="11.7" fill="#089981"/><rect x="1044" y="228.0" width="5" height="10.8" fill="#089981"/><rect x="1052" y="223.0" width="1" height="8.6" fill="#089981"/><rect x="1050" y="224.9" width="5" height="3.6" fill="#089981"/><rect x="1058" y="205.2" width="1" height="20.6" fill="#089981"/><rect x="1056" y="205.2" width="5" height="20.6" fill="#089981"/><rect x="1064" y="178.4" width="1" height="28.2" fill="#089981"/><rect x="1062" y="182.0" width="5" height="24.6" fill="#089981"/><rect x="1070" y="168.3" width="1" height="15.5" fill="#089981"/><rect x="1068" y="174.2" width="5" height="8.7" fill="#089981"/><rect x="1076" y="171.4" width="1" height="14.3" fill="#f23645"/><rect x="1074" y="174.2" width="5" height="8.7" fill="#f23645"/><rect x="1082" y="173.3" width="1" height="16.4" fill="#f23645"/><rect x="1080" y="182.4" width="5" height="7.3" fill="#f23645"/><rect x="1088" y="173.3" width="1" height="16.4" fill="#089981"/><rect x="1086" y="181.1" width="5" height="8.6" fill="#089981"/><rect x="1094" y="147.4" width="1" height="34.2" fill="#089981"/><rect x="1092" y="150.1" width="5" height="31.5" fill="#089981"/><rect x="1100" y="148.3" width="1" height="18.2" fill="#f23645"/><rect x="1098" y="150.1" width="5" height="13.3" fill="#f23645"/><rect x="1106" y="153.2" width="1" height="12.4" fill="#089981"/><rect x="1104" y="159.2" width="5" height="4.6" fill="#089981"/><rect x="1112" y="149.2" width="1" height="16.4" fill="#f23645"/><rect x="1110" y="159.2" width="5" height="5.5" fill="#f23645"/><rect x="1118" y="135.1" width="1" height="29.6" fill="#089981"/><rect x="1116" y="143.2" width="5" height="21.5" fill="#089981"/><rect x="1124" y="130.0" width="1" height="19.5" fill="#089981"/><rect x="1122" y="138.2" width="5" height="5.5" fill="#089981"/><rect x="1130" y="128.2" width="1" height="18.2" fill="#089981"/><rect x="1128" y="132.2" width="5" height="6.4" fill="#089981"/><rect x="1136" y="130.4" width="1" height="14.2" fill="#f23645"/><rect x="1134" y="132.2" width="5" height="11.0" fill="#f23645"/><rect x="1142" y="139.1" width="1" height="8.8" fill="#f23645"/><rect x="1140" y="142.3" width="5" height="4.7" fill="#f23645"/><rect x="1148" y="144.3" width="1" height="12.2" fill="#f23645"/><rect x="1146" y="146.1" width="5" height="8.6" fill="#f23645"/><rect x="1154" y="140.4" width="1" height="14.3" fill="#089981"/><rect x="1152" y="142.3" width="5" height="12.4" fill="#089981"/><rect x="1160" y="133.7" width="1" height="11.1" fill="#089981"/><rect x="1158" y="140.5" width="5" height="1.9" fill="#089981"/><rect x="1166" y="137.3" width="1" height="8.0" fill="#f23645"/><rect x="1164" y="140.0" width="5" height="4.0" fill="#f23645"/><rect x="1172" y="139.3" width="1" height="5.5" fill="#089981"/><rect x="1170" y="141.6" width="5" height="1.1" fill="#089981"/><rect x="1178" y="95.2" width="1" height="48.5" fill="#089981"/><rect x="1176" y="96.8" width="5" height="46.9" fill="#089981"/><rect x="1184" y="82.2" width="1" height="22.5" fill="#089981"/><rect x="1182" y="90.1" width="5" height="7.6" fill="#089981"/><rect x="1190" y="70.3" width="1" height="22.7" fill="#089981"/><rect x="1188" y="80.1" width="5" height="10.8" fill="#089981"/><rect x="1196" y="79.0" width="1" height="14.0" fill="#f23645"/><rect x="1194" y="80.1" width="5" height="8.7" fill="#f23645"/><rect x="1202" y="87.0" width="1" height="12.6" fill="#f23645"/><rect x="1200" y="88.1" width="5" height="1.5" fill="#f23645"/><rect x="1208" y="83.0" width="1" height="15.5" fill="#f23645"/><rect x="1206" y="89.3" width="5" height="3.2" fill="#f23645"/><rect x="1214" y="92.5" width="1" height="12.2" fill="#f23645"/><rect x="1212" y="92.5" width="5" height="7.1" fill="#f23645"/><rect x="1220" y="95.2" width="1" height="12.4" fill="#089981"/><rect x="1218" y="96.1" width="5" height="3.5" fill="#089981"/><rect x="1226" y="92.0" width="1" height="10.5" fill="#089981"/><rect x="1224" y="94.1" width="5" height="2.7" fill="#089981"/><rect x="1232" y="78.2" width="1" height="20.3" fill="#089981"/><rect x="1230" y="89.3" width="5" height="5.3" fill="#089981"/><rect x="1238" y="75.1" width="1" height="18.5" fill="#089981"/><rect x="1236" y="87.7" width="5" height="1.1" fill="#089981"/><rect x="1244" y="80.9" width="1" height="14.8" fill="#f23645"/><rect x="1242" y="88.2" width="5" height="5.4" fill="#f23645"/><rect x="1250" y="70.3" width="1" height="24.3" fill="#089981"/><rect x="1248" y="71.9" width="5" height="21.7" fill="#089981"/><rect x="1256" y="64.4" width="1" height="9.1" fill="#089981"/><rect x="1254" y="66.7" width="5" height="5.7" fill="#089981"/><line x1="10" y1="66.5" x2="1421" y2="66.5" stroke="#089981" stroke-width="1" stroke-dasharray="1 2"/></g><g clip-path="url(#rsic)"><rect x="11" y="427" width="1410" height="44" fill="#7e57c2" fill-opacity="0.1"/><rect x="11" y="459" width="1410" height="1" fill="#e6e3ee"/><path d="M425.17,470.20 L428.50,473.20 L434.50,473.20 L435.67,470.20 L435.67,470.2 L425.17,470.2 Z" fill="#f23645" fill-opacity="0.25"/><path d="M8.50,420.00 L12.57,427.40 L12.57,427.4 L8.50,427.4 Z" fill="url(#ob)" /><path d="M615.67,427.40 L620.50,424.10 L626.50,422.20 L632.50,415.80 L638.50,413.50 L644.50,413.50 L650.50,407.60 L656.50,406.30 L662.50,421.40 L668.50,420.30 L674.50,424.60 L680.50,420.60 L686.50,418.70 L692.50,423.40 L698.50,423.40 L704.50,419.00 L707.45,427.40 L707.45,427.4 L615.67,427.4 Z" fill="url(#ob)" /><path d="M835.61,427.40 L836.50,426.10 L839.75,427.40 L839.75,427.4 L835.61,427.4 Z" fill="url(#ob)" /><path d="M1058.91,427.40 L1064.50,416.60 L1070.50,414.70 L1076.50,423.00 L1080.07,427.40 L1080.07,427.4 L1058.91,427.4 Z" fill="url(#ob)" /><path d="M1087.24,427.40 L1088.50,426.60 L1094.50,416.60 L1100.50,427.20 L1106.50,426.10 L1108.45,427.40 L1108.45,427.4 L1087.24,427.4 Z" fill="url(#ob)" /><path d="M1115.07,427.40 L1118.50,423.80 L1124.50,421.90 L1130.50,420.30 L1135.70,427.40 L1135.70,427.4 L1115.07,427.4 Z" fill="url(#ob)" /><path d="M1174.92,427.40 L1178.50,418.70 L1184.50,417.10 L1190.50,415.20 L1196.50,421.10 L1202.50,422.60 L1208.50,425.10 L1211.10,427.40 L1211.10,427.4 L1174.92,427.4 Z" fill="url(#ob)" /><path d="M1229.97,427.40 L1232.50,426.60 L1238.50,426.40 L1240.08,427.40 L1240.08,427.4 L1229.97,427.4 Z" fill="url(#ob)" /><path d="M1246.60,427.40 L1250.50,422.20 L1256.50,420.30 L1256.50,427.4 L1246.60,427.4 Z" fill="url(#ob)" /><path d="M10,427.5 H1421" stroke="#787b86" stroke-width="1" stroke-dasharray="5 6" fill="none" shape-rendering="crispEdges"/><path d="M10,448.5 H1421" stroke="#a8abb4" stroke-width="1" stroke-dasharray="5 6" fill="none" shape-rendering="crispEdges"/><path d="M10,470.5 H1421" stroke="#787b86" stroke-width="1" stroke-dasharray="5 6" fill="none" shape-rendering="crispEdges"/><path d="M8.00,437.20 C8.42,437.13 6.52,437.50 10.50,436.80 C14.48,436.10 26.75,433.72 31.90,433.00 C37.05,432.28 37.97,432.32 41.40,432.50 C44.83,432.68 48.00,433.18 52.50,434.10 C57.00,435.02 62.58,435.90 68.40,438.00 C74.22,440.10 82.13,444.45 87.40,446.70 C92.67,448.95 95.25,449.92 100.00,451.50 C104.75,453.08 110.62,454.97 115.90,456.20 C121.18,457.43 126.42,458.18 131.70,458.90 C136.98,459.62 142.32,460.23 147.60,460.50 C152.88,460.77 158.12,460.77 163.40,460.50 C168.68,460.23 174.02,459.53 179.30,458.90 C184.58,458.27 189.82,457.53 195.10,456.70 C200.38,455.87 205.18,455.03 211.00,453.90 C216.82,452.77 224.33,450.70 230.00,449.90 C235.67,449.10 240.70,449.10 245.00,449.10 C249.30,449.10 250.57,449.50 255.80,449.90 C261.03,450.30 270.32,450.70 276.40,451.50 C282.48,452.30 285.17,453.57 292.30,454.70 C299.43,455.83 311.55,457.78 319.20,458.30 C326.85,458.82 331.33,458.33 338.20,457.80 C345.07,457.27 353.00,455.70 360.40,455.10 C367.80,454.50 376.27,454.20 382.60,454.20 C388.93,454.20 391.80,454.42 398.40,455.10 C405.00,455.78 415.87,457.18 422.20,458.30 C428.53,459.42 431.12,461.35 436.40,461.80 C441.68,462.25 448.35,461.13 453.90,461.00 C459.45,460.87 465.35,461.53 469.70,461.00 C474.05,460.47 475.65,459.38 480.00,457.80 C484.35,456.22 489.47,454.05 495.80,451.50 C502.13,448.95 511.40,444.70 518.00,442.50 C524.60,440.30 529.72,439.25 535.40,438.30 C541.08,437.35 545.50,436.45 552.10,436.80 C558.70,437.15 568.68,439.17 575.00,440.40 C581.32,441.63 585.43,443.37 590.00,444.20 C594.57,445.03 598.12,445.43 602.40,445.40 C606.68,445.37 610.63,445.03 615.70,444.00 C620.77,442.97 627.57,440.78 632.80,439.20 C638.03,437.62 642.18,436.52 647.10,434.50 C652.02,432.48 657.55,429.17 662.30,427.10 C667.05,425.03 671.00,423.57 675.60,422.10 C680.20,420.63 685.30,419.02 689.90,418.30 C694.50,417.58 698.18,417.32 703.20,417.80 C708.22,418.28 714.03,419.95 720.00,421.20 C725.97,422.45 732.40,424.03 739.00,425.30 C745.60,426.57 751.68,427.55 759.60,428.80 C767.52,430.05 777.27,432.18 786.50,432.80 C795.73,433.42 804.97,432.47 815.00,432.50 C825.03,432.53 836.13,432.87 846.70,433.00 C857.27,433.13 869.15,432.73 878.40,433.30 C887.65,433.87 894.28,435.40 902.20,436.40 C910.12,437.40 918.77,438.55 925.90,439.30 C933.03,440.05 939.32,440.07 945.00,440.90 C950.68,441.73 954.33,442.88 960.00,444.30 C965.67,445.72 971.08,448.02 979.00,449.40 C986.92,450.78 998.78,451.65 1007.50,452.60 C1016.22,453.55 1024.97,454.63 1031.30,455.10 C1037.63,455.57 1041.55,455.73 1045.50,455.40 C1049.45,455.07 1050.77,454.82 1055.00,453.10 C1059.23,451.38 1064.28,447.67 1070.90,445.10 C1077.52,442.53 1086.78,440.25 1094.70,437.70 C1102.62,435.15 1111.80,432.07 1118.40,429.80 C1125.00,427.53 1129.02,424.72 1134.30,424.10 C1139.58,423.48 1144.82,425.42 1150.10,426.10 C1155.38,426.78 1160.72,427.93 1166.00,428.20 C1171.28,428.47 1176.13,428.02 1181.80,427.70 C1187.47,427.38 1195.47,426.58 1200.00,426.30 C1204.53,426.02 1205.38,425.90 1209.00,426.00 C1212.62,426.10 1216.83,426.90 1221.70,426.90 C1226.57,426.90 1233.98,426.27 1238.20,426.00 C1242.42,425.73 1243.98,425.73 1247.00,425.30 C1250.02,424.87 1254.75,423.72 1256.30,423.40" fill="none" stroke="#fdd835" stroke-width="1.3"/><path d="M8.5,420.0 L14.5,430.9 L20.5,435.6 L26.5,437.7 L32.5,433.0 L38.5,436.8 L44.5,444.7 L50.5,448.3 L56.5,448.3 L62.5,454.2 L68.5,455.1 L74.5,457.3 L80.5,459.9 L86.5,468.4 L92.5,468.4 L98.5,463.4 L104.5,458.1 L110.5,460.2 L116.5,456.2 L122.5,457.8 L128.5,458.1 L134.5,459.4 L140.5,461.0 L146.5,462.3 L152.5,459.4 L158.5,458.3 L164.5,458.9 L170.5,458.3 L176.5,455.4 L182.5,453.1 L188.5,453.1 L194.5,451.8 L200.5,441.5 L206.5,444.7 L212.5,443.1 L218.5,438.3 L224.5,447.5 L230.5,442.0 L236.5,448.3 L242.5,454.7 L248.5,459.4 L254.5,458.6 L260.5,462.3 L266.5,459.7 L272.5,460.2 L278.5,463.4 L284.5,464.2 L290.5,464.2 L296.5,450.7 L302.5,451.0 L308.5,454.7 L314.5,456.2 L320.5,457.8 L326.5,455.4 L332.5,454.7 L338.5,455.8 L344.5,446.4 L350.5,447.5 L356.5,455.4 L362.5,460.2 L368.5,459.4 L374.5,454.7 L380.5,450.4 L386.5,447.5 L392.5,457.3 L398.5,465.3 L404.5,463.0 L410.5,466.2 L416.5,466.5 L422.5,467.8 L428.5,473.2 L434.5,473.2 L440.5,457.8 L446.5,455.1 L452.5,453.5 L458.5,455.8 L464.5,455.8 L470.5,445.9 L476.5,431.7 L482.5,432.5 L488.5,431.4 L494.5,431.4 L500.5,435.2 L506.5,438.0 L512.5,433.3 L518.5,434.9 L524.5,438.3 L530.5,435.6 L536.5,442.8 L542.5,443.6 L548.5,442.0 L554.5,441.5 L560.5,446.3 L566.5,447.8 L572.5,448.8 L578.5,452.3 L584.5,454.3 L590.5,449.4 L596.5,449.1 L602.5,443.6 L608.5,431.4 L614.5,428.2 L620.5,424.1 L626.5,422.2 L632.5,415.8 L638.5,413.5 L644.5,413.5 L650.5,407.6 L656.5,406.3 L662.5,421.4 L668.5,420.3 L674.5,424.6 L680.5,420.6 L686.5,418.7 L692.5,423.4 L698.5,423.4 L704.5,419.0 L710.5,436.1 L716.5,432.5 L722.5,430.9 L728.5,429.3 L734.5,432.5 L740.5,431.4 L746.5,431.4 L752.5,430.9 L758.5,429.0 L764.5,433.6 L770.5,431.2 L776.5,441.5 L782.5,436.8 L788.5,432.5 L794.5,431.7 L800.5,430.9 L806.5,430.4 L812.5,429.8 L818.5,427.7 L824.5,438.0 L830.5,434.9 L836.5,426.1 L842.5,428.5 L848.5,438.0 L854.5,436.8 L860.5,437.5 L866.5,437.2 L872.5,434.1 L878.5,432.8 L884.5,431.4 L890.5,442.8 L896.5,443.2 L902.5,447.2 L908.5,441.5 L914.5,439.3 L920.5,440.4 L926.5,445.1 L932.5,447.0 L938.5,444.7 L944.5,444.7 L950.5,454.2 L956.5,453.5 L962.5,453.5 L968.5,460.2 L974.5,460.2 L980.5,461.3 L986.5,457.8 L992.5,451.5 L998.5,451.0 L1004.5,448.8 L1010.5,447.8 L1016.5,453.9 L1022.5,455.4 L1028.5,456.7 L1034.5,457.3 L1040.5,460.7 L1046.5,447.2 L1052.5,443.6 L1058.5,428.2 L1064.5,416.6 L1070.5,414.7 L1076.5,423.0 L1082.5,430.4 L1088.5,426.6 L1094.5,416.6 L1100.5,427.2 L1106.5,426.1 L1112.5,430.1 L1118.5,423.8 L1124.5,421.9 L1130.5,420.3 L1136.5,428.5 L1142.5,431.7 L1148.5,436.8 L1154.5,432.5 L1160.5,431.4 L1166.5,433.3 L1172.5,433.3 L1178.5,418.7 L1184.5,417.1 L1190.5,415.2 L1196.5,421.1 L1202.5,422.6 L1208.5,425.1 L1214.5,430.4 L1220.5,429.4 L1226.5,428.5 L1232.5,426.6 L1238.5,426.4 L1244.5,430.2 L1250.5,422.2 L1256.5,420.3" fill="none" stroke="#7e57c2" stroke-width="1.15" stroke-linejoin="round"/></g><g clip-path="url(#macdc)"><path d="M10,553.5 H1421" stroke="#a8abb4" stroke-width="1" stroke-dasharray="5 6" fill="none" shape-rendering="crispEdges"/><rect x="6" y="549.0" width="5" height="4.4" fill="#b2dfdb"/><rect x="12" y="549.1" width="5" height="4.3" fill="#b2dfdb"/><rect x="18" y="550.2" width="5" height="3.2" fill="#b2dfdb"/><rect x="24" y="551.1" width="5" height="2.3" fill="#b2dfdb"/><rect x="30" y="551.1" width="5" height="2.3" fill="#b2dfdb"/><rect x="36" y="551.1" width="5" height="2.3" fill="#b2dfdb"/><rect x="42" y="552.2" width="5" height="1.2" fill="#b2dfdb"/><rect x="48" y="553.4" width="5" height="1.0" fill="#ff5252"/><rect x="54" y="553.4" width="5" height="1.2" fill="#ff5252"/><rect x="60" y="553.4" width="5" height="2.5" fill="#ff5252"/><rect x="66" y="553.4" width="5" height="3.6" fill="#ff5252"/><rect x="72" y="553.4" width="5" height="3.6" fill="#ff5252"/><rect x="78" y="553.4" width="5" height="4.4" fill="#ff5252"/><rect x="84" y="553.4" width="5" height="5.5" fill="#ff5252"/><rect x="90" y="553.4" width="5" height="5.5" fill="#ff5252"/><rect x="96" y="553.4" width="5" height="3.6" fill="#ffcdd2"/><rect x="102" y="553.4" width="5" height="3.6" fill="#ffcdd2"/><rect x="108" y="553.4" width="5" height="2.8" fill="#ffcdd2"/><rect x="114" y="553.4" width="5" height="2.0" fill="#ffcdd2"/><rect x="120" y="553.4" width="5" height="1.6" fill="#ffcdd2"/><rect x="126" y="553.4" width="5" height="1.6" fill="#ffcdd2"/><rect x="132" y="553.4" width="5" height="1.2" fill="#ffcdd2"/><rect x="138" y="553.4" width="5" height="1.2" fill="#ffcdd2"/><rect x="144" y="553.4" width="5" height="1.0" fill="#ffcdd2"/><rect x="150" y="553.4" width="5" height="1.0" fill="#ffcdd2"/><rect x="156" y="553.4" width="5" height="1.0" fill="#ffcdd2"/><rect x="162" y="553.4" width="5" height="1.0" fill="#ffcdd2"/><rect x="168" y="553.4" width="5" height="1.0" fill="#ffcdd2"/><rect x="174" y="551.9" width="5" height="1.5" fill="#26a69a"/><rect x="180" y="551.9" width="5" height="1.5" fill="#26a69a"/><rect x="186" y="551.9" width="5" height="1.5" fill="#26a69a"/><rect x="192" y="551.1" width="5" height="2.3" fill="#26a69a"/><rect x="198" y="551.1" width="5" height="2.3" fill="#26a69a"/><rect x="204" y="551.1" width="5" height="2.3" fill="#26a69a"/><rect x="210" y="549.9" width="5" height="3.5" fill="#26a69a"/><rect x="216" y="549.9" width="5" height="3.5" fill="#26a69a"/><rect x="222" y="549.9" width="5" height="3.5" fill="#b2dfdb"/><rect x="228" y="549.9" width="5" height="3.5" fill="#26a69a"/><rect x="234" y="551.1" width="5" height="2.3" fill="#b2dfdb"/><rect x="240" y="552.2" width="5" height="1.2" fill="#b2dfdb"/><rect x="246" y="553.0" width="5" height="1.0" fill="#b2dfdb"/><rect x="252" y="553.4" width="5" height="1.0" fill="#ff5252"/><rect x="258" y="553.4" width="5" height="1.0" fill="#ff5252"/><rect x="264" y="553.4" width="5" height="1.0" fill="#ff5252"/><rect x="270" y="553.4" width="5" height="1.2" fill="#ff5252"/><rect x="276" y="553.4" width="5" height="1.2" fill="#ff5252"/><rect x="282" y="553.4" width="5" height="1.2" fill="#ff5252"/><rect x="288" y="553.4" width="5" height="1.0" fill="#ffcdd2"/><rect x="294" y="553.4" width="5" height="1.0" fill="#ffcdd2"/><rect x="300" y="553.4" width="5" height="1.0" fill="#ffcdd2"/><rect x="306" y="552.6" width="5" height="1.0" fill="#26a69a"/><rect x="312" y="551.9" width="5" height="1.5" fill="#26a69a"/><rect x="318" y="553.0" width="5" height="1.0" fill="#b2dfdb"/><rect x="324" y="551.9" width="5" height="1.5" fill="#26a69a"/><rect x="330" y="551.9" width="5" height="1.5" fill="#26a69a"/><rect x="336" y="551.9" width="5" height="1.5" fill="#26a69a"/><rect x="342" y="551.9" width="5" height="1.5" fill="#26a69a"/><rect x="348" y="551.9" width="5" height="1.5" fill="#26a69a"/><rect x="354" y="551.9" width="5" height="1.5" fill="#b2dfdb"/><rect x="360" y="551.9" width="5" height="1.5" fill="#b2dfdb"/><rect x="366" y="553.4" width="5" height="1.0" fill="#ff5252"/><rect x="372" y="553.4" width="5" height="1.0" fill="#ffcdd2"/><rect x="378" y="551.9" width="5" height="1.5" fill="#26a69a"/><rect x="384" y="551.9" width="5" height="1.5" fill="#26a69a"/><rect x="390" y="551.9" width="5" height="1.5" fill="#b2dfdb"/><rect x="396" y="553.4" width="5" height="1.0" fill="#ff5252"/><rect x="402" y="553.4" width="5" height="1.0" fill="#ff5252"/><rect x="408" y="553.4" width="5" height="1.2" fill="#ff5252"/><rect x="414" y="553.4" width="5" height="1.2" fill="#ff5252"/><rect x="420" y="553.4" width="5" height="1.2" fill="#ff5252"/><rect x="426" y="553.4" width="5" height="2.3" fill="#ff5252"/><rect x="432" y="553.4" width="5" height="2.3" fill="#ff5252"/><rect x="438" y="553.4" width="5" height="1.0" fill="#ffcdd2"/><rect x="444" y="553.4" width="5" height="1.0" fill="#ffcdd2"/><rect x="450" y="553.4" width="5" height="1.0" fill="#ffcdd2"/><rect x="456" y="551.9" width="5" height="1.5" fill="#26a69a"/><rect x="462" y="551.9" width="5" height="1.5" fill="#26a69a"/><rect x="468" y="551.0" width="5" height="2.4" fill="#26a69a"/><rect x="474" y="549.9" width="5" height="3.5" fill="#26a69a"/><rect x="480" y="549.1" width="5" height="4.3" fill="#26a69a"/><rect x="486" y="548.0" width="5" height="5.4" fill="#26a69a"/><rect x="492" y="548.0" width="5" height="5.4" fill="#26a69a"/><rect x="498" y="549.9" width="5" height="3.5" fill="#b2dfdb"/><rect x="504" y="549.9" width="5" height="3.5" fill="#b2dfdb"/><rect x="510" y="549.1" width="5" height="4.3" fill="#b2dfdb"/><rect x="516" y="550.2" width="5" height="3.2" fill="#b2dfdb"/><rect x="522" y="550.6" width="5" height="2.8" fill="#b2dfdb"/><rect x="528" y="549.9" width="5" height="3.5" fill="#b2dfdb"/><rect x="534" y="551.1" width="5" height="2.3" fill="#b2dfdb"/><rect x="540" y="552.2" width="5" height="1.2" fill="#b2dfdb"/><rect x="546" y="552.2" width="5" height="1.2" fill="#b2dfdb"/><rect x="552" y="552.2" width="5" height="1.2" fill="#b2dfdb"/><rect x="558" y="553.4" width="5" height="1.0" fill="#ff5252"/><rect x="564" y="553.4" width="5" height="1.0" fill="#ff5252"/><rect x="570" y="553.4" width="5" height="1.0" fill="#ff5252"/><rect x="576" y="553.4" width="5" height="1.2" fill="#ff5252"/><rect x="582" y="553.4" width="5" height="1.2" fill="#ff5252"/><rect x="588" y="553.4" width="5" height="1.0" fill="#ffcdd2"/><rect x="594" y="553.4" width="5" height="1.0" fill="#ffcdd2"/><rect x="600" y="553.4" width="5" height="1.0" fill="#ffcdd2"/><rect x="606" y="551.9" width="5" height="1.5" fill="#26a69a"/><rect x="612" y="550.6" width="5" height="2.8" fill="#26a69a"/><rect x="618" y="550.2" width="5" height="3.2" fill="#26a69a"/><rect x="624" y="549.5" width="5" height="3.9" fill="#26a69a"/><rect x="630" y="549.1" width="5" height="4.3" fill="#26a69a"/><rect x="636" y="548.0" width="5" height="5.4" fill="#26a69a"/><rect x="642" y="547.0" width="5" height="6.4" fill="#26a69a"/><rect x="648" y="545.9" width="5" height="7.5" fill="#26a69a"/><rect x="654" y="544.0" width="5" height="9.4" fill="#26a69a"/><rect x="660" y="545.1" width="5" height="8.3" fill="#b2dfdb"/><rect x="666" y="545.9" width="5" height="7.5" fill="#b2dfdb"/><rect x="672" y="547.0" width="5" height="6.4" fill="#b2dfdb"/><rect x="678" y="547.0" width="5" height="6.4" fill="#b2dfdb"/><rect x="684" y="547.0" width="5" height="6.4" fill="#26a69a"/><rect x="690" y="548.0" width="5" height="5.4" fill="#b2dfdb"/><rect x="696" y="549.1" width="5" height="4.3" fill="#b2dfdb"/><rect x="702" y="549.1" width="5" height="4.3" fill="#26a69a"/><rect x="708" y="551.1" width="5" height="2.3" fill="#b2dfdb"/><rect x="714" y="551.1" width="5" height="2.3" fill="#b2dfdb"/><rect x="720" y="552.2" width="5" height="1.2" fill="#b2dfdb"/><rect x="726" y="552.6" width="5" height="1.0" fill="#b2dfdb"/><rect x="732" y="553.4" width="5" height="1.0" fill="#ff5252"/><rect x="738" y="553.4" width="5" height="1.0" fill="#ff5252"/><rect x="744" y="553.4" width="5" height="1.2" fill="#ff5252"/><rect x="750" y="553.4" width="5" height="1.2" fill="#ff5252"/><rect x="756" y="553.4" width="5" height="1.2" fill="#ff5252"/><rect x="762" y="553.4" width="5" height="1.2" fill="#ff5252"/><rect x="768" y="553.4" width="5" height="1.2" fill="#ff5252"/><rect x="774" y="553.4" width="5" height="3.6" fill="#ff5252"/><rect x="780" y="553.4" width="5" height="3.6" fill="#ff5252"/><rect x="786" y="553.4" width="5" height="2.5" fill="#ffcdd2"/><rect x="792" y="553.4" width="5" height="1.0" fill="#ffcdd2"/><rect x="798" y="553.4" width="5" height="1.2" fill="#ffcdd2"/><rect x="804" y="553.4" width="5" height="1.2" fill="#ffcdd2"/><rect x="810" y="553.4" width="5" height="1.0" fill="#ffcdd2"/><rect x="816" y="553.4" width="5" height="1.0" fill="#ffcdd2"/><rect x="822" y="553.4" width="5" height="1.2" fill="#ff5252"/><rect x="828" y="553.4" width="5" height="1.2" fill="#ff5252"/><rect x="834" y="552.6" width="5" height="1.0" fill="#26a69a"/><rect x="840" y="551.9" width="5" height="1.5" fill="#26a69a"/><rect x="846" y="553.4" width="5" height="1.0" fill="#ff5252"/><rect x="852" y="553.4" width="5" height="1.0" fill="#ff5252"/><rect x="858" y="553.4" width="5" height="1.2" fill="#ff5252"/><rect x="864" y="553.4" width="5" height="1.2" fill="#ff5252"/><rect x="870" y="553.4" width="5" height="1.0" fill="#ffcdd2"/><rect x="876" y="553.4" width="5" height="1.2" fill="#ffcdd2"/><rect x="882" y="553.4" width="5" height="1.0" fill="#ffcdd2"/><rect x="888" y="553.4" width="5" height="1.2" fill="#ff5252"/><rect x="894" y="553.4" width="5" height="2.5" fill="#ff5252"/><rect x="900" y="553.4" width="5" height="3.6" fill="#ff5252"/><rect x="906" y="553.4" width="5" height="3.6" fill="#ffcdd2"/><rect x="912" y="553.4" width="5" height="2.5" fill="#ffcdd2"/><rect x="918" y="553.4" width="5" height="2.5" fill="#ffcdd2"/><rect x="924" y="553.4" width="5" height="2.5" fill="#ff5252"/><rect x="930" y="553.4" width="5" height="2.5" fill="#ff5252"/><rect x="936" y="553.4" width="5" height="2.5" fill="#ffcdd2"/><rect x="942" y="553.4" width="5" height="2.5" fill="#ffcdd2"/><rect x="948" y="553.4" width="5" height="3.6" fill="#ff5252"/><rect x="954" y="553.4" width="5" height="3.6" fill="#ff5252"/><rect x="960" y="553.4" width="5" height="3.6" fill="#ff5252"/><rect x="966" y="553.4" width="5" height="4.5" fill="#ff5252"/><rect x="972" y="553.4" width="5" height="4.5" fill="#ff5252"/><rect x="978" y="553.4" width="5" height="4.5" fill="#ff5252"/><rect x="984" y="553.4" width="5" height="3.6" fill="#ffcdd2"/><rect x="990" y="553.4" width="5" height="2.1" fill="#ffcdd2"/><rect x="996" y="553.4" width="5" height="1.0" fill="#ffcdd2"/><rect x="1002" y="553.4" width="5" height="1.0" fill="#ffcdd2"/><rect x="1008" y="553.4" width="5" height="1.0" fill="#ffcdd2"/><rect x="1014" y="553.4" width="5" height="1.2" fill="#ff5252"/><rect x="1020" y="553.4" width="5" height="1.2" fill="#ff5252"/><rect x="1026" y="553.4" width="5" height="1.2" fill="#ff5252"/><rect x="1032" y="553.4" width="5" height="1.0" fill="#ffcdd2"/><rect x="1038" y="553.4" width="5" height="1.5" fill="#ff5252"/><rect x="1044" y="553.4" width="5" height="1.0" fill="#ffcdd2"/><rect x="1050" y="552.3" width="5" height="1.1" fill="#26a69a"/><rect x="1056" y="550.3" width="5" height="3.1" fill="#26a69a"/><rect x="1062" y="545.2" width="5" height="8.2" fill="#26a69a"/><rect x="1068" y="542.0" width="5" height="11.4" fill="#26a69a"/><rect x="1074" y="542.0" width="5" height="11.4" fill="#26a69a"/><rect x="1080" y="543.3" width="5" height="10.1" fill="#b2dfdb"/><rect x="1086" y="543.3" width="5" height="10.1" fill="#b2dfdb"/><rect x="1092" y="540.1" width="5" height="13.3" fill="#26a69a"/><rect x="1098" y="541.2" width="5" height="12.2" fill="#b2dfdb"/><rect x="1104" y="541.2" width="5" height="12.2" fill="#b2dfdb"/><rect x="1110" y="543.3" width="5" height="10.1" fill="#b2dfdb"/><rect x="1116" y="542.0" width="5" height="11.4" fill="#26a69a"/><rect x="1122" y="541.2" width="5" height="12.2" fill="#26a69a"/><rect x="1128" y="541.2" width="5" height="12.2" fill="#26a69a"/><rect x="1134" y="543.3" width="5" height="10.1" fill="#b2dfdb"/><rect x="1140" y="546.0" width="5" height="7.4" fill="#b2dfdb"/><rect x="1146" y="549.2" width="5" height="4.2" fill="#b2dfdb"/><rect x="1152" y="550.3" width="5" height="3.1" fill="#b2dfdb"/><rect x="1158" y="551.2" width="5" height="2.2" fill="#b2dfdb"/><rect x="1164" y="552.3" width="5" height="1.1" fill="#b2dfdb"/><rect x="1170" y="553.4" width="5" height="1.0" fill="#ff5252"/><rect x="1176" y="547.1" width="5" height="6.3" fill="#26a69a"/><rect x="1182" y="542.0" width="5" height="11.4" fill="#26a69a"/><rect x="1188" y="538.1" width="5" height="15.3" fill="#26a69a"/><rect x="1194" y="539.2" width="5" height="14.2" fill="#b2dfdb"/><rect x="1200" y="540.0" width="5" height="13.4" fill="#b2dfdb"/><rect x="1206" y="543.2" width="5" height="10.2" fill="#b2dfdb"/><rect x="1212" y="547.3" width="5" height="6.1" fill="#b2dfdb"/><rect x="1218" y="549.2" width="5" height="4.2" fill="#b2dfdb"/><rect x="1224" y="551.0" width="5" height="2.4" fill="#b2dfdb"/><rect x="1230" y="552.1" width="5" height="1.3" fill="#b2dfdb"/><rect x="1236" y="553.4" width="5" height="1.0" fill="#ff5252"/><rect x="1242" y="553.4" width="5" height="2.4" fill="#ff5252"/><rect x="1248" y="552.1" width="5" height="1.3" fill="#26a69a"/><rect x="1254" y="550.2" width="5" height="3.2" fill="#26a69a"/><path d="M8.00,546.80 C8.42,546.78 5.72,547.12 10.50,546.70 C15.28,546.28 28.38,544.43 36.70,544.30 C45.02,544.17 51.17,544.72 60.40,545.90 C69.63,547.08 84.17,549.95 92.10,551.40 C100.03,552.85 101.40,553.67 108.00,554.60 C114.60,555.53 123.78,556.42 131.70,557.00 C139.62,557.58 147.57,557.97 155.50,558.10 C163.43,558.23 170.05,558.17 179.30,557.80 C188.55,557.43 202.55,556.57 211.00,555.90 C219.45,555.23 224.33,554.15 230.00,553.80 C235.67,553.45 238.05,553.53 245.00,553.80 C251.95,554.07 261.97,554.95 271.70,555.40 C281.43,555.85 290.20,556.50 303.40,556.50 C316.60,556.50 336.38,555.58 350.90,555.40 C365.42,555.22 379.93,555.22 390.50,555.40 C401.07,555.58 406.38,556.05 414.30,556.50 C422.22,556.95 430.08,557.83 438.00,558.10 C445.92,558.37 454.80,558.37 461.80,558.10 C468.80,557.83 473.00,557.48 480.00,556.50 C487.00,555.52 495.88,553.43 503.80,552.20 C511.72,550.97 519.58,549.75 527.50,549.10 C535.42,548.45 543.38,548.17 551.30,548.30 C559.22,548.43 566.82,549.43 575.00,549.90 C583.18,550.37 592.47,551.23 600.40,551.10 C608.33,550.97 614.95,550.42 622.60,549.10 C630.25,547.78 638.38,545.18 646.30,543.20 C654.22,541.22 662.17,539.00 670.10,537.20 C678.03,535.40 687.30,533.52 693.90,532.40 C700.50,531.28 705.35,530.82 709.70,530.50 C714.05,530.18 714.32,530.38 720.00,530.50 C725.68,530.62 733.23,530.62 743.80,531.20 C754.37,531.78 770.20,533.22 783.40,534.00 C796.60,534.78 812.45,535.50 823.00,535.90 C833.55,536.30 837.47,536.13 846.70,536.40 C855.93,536.67 869.15,536.90 878.40,537.50 C887.65,538.10 894.28,539.22 902.20,540.00 C910.12,540.78 918.77,541.48 925.90,542.20 C933.03,542.92 939.32,543.55 945.00,544.30 C950.68,545.05 954.33,545.70 960.00,546.70 C965.67,547.70 972.40,549.18 979.00,550.30 C985.60,551.42 990.88,552.67 999.60,553.40 C1008.32,554.13 1022.58,554.48 1031.30,554.70 C1040.02,554.92 1046.62,555.02 1051.90,554.70 C1057.18,554.38 1057.20,554.70 1063.00,552.80 C1068.80,550.90 1078.78,546.82 1086.70,543.30 C1094.62,539.78 1102.57,535.48 1110.50,531.70 C1118.43,527.92 1127.70,522.97 1134.30,520.60 C1140.90,518.23 1143.77,518.02 1150.10,517.50 C1156.43,516.98 1167.02,518.03 1172.30,517.50 C1177.58,516.97 1178.85,515.63 1181.80,514.30 C1184.75,512.97 1186.83,511.35 1190.00,509.50 C1193.17,507.65 1197.43,504.85 1200.80,503.20 C1204.17,501.55 1207.07,500.45 1210.20,499.60 C1213.33,498.75 1216.23,498.45 1219.60,498.10 C1222.97,497.75 1226.35,497.43 1230.40,497.50 C1234.45,497.57 1239.63,498.40 1243.90,498.50 C1248.17,498.60 1253.98,498.17 1256.00,498.10" fill="none" stroke="#ffb000" stroke-width="1.4"/><path d="M8.00,543.30 C8.42,543.28 6.52,543.30 10.50,543.20 C14.48,543.10 26.75,542.65 31.90,542.70 C37.05,542.75 36.65,542.70 41.40,543.50 C46.15,544.30 53.27,545.78 60.40,547.50 C67.53,549.22 78.12,552.13 84.20,553.80 C90.28,555.47 91.62,556.78 96.90,557.50 C102.18,558.22 107.45,557.85 115.90,558.10 C124.35,558.35 139.68,558.92 147.60,559.00 C155.52,559.08 155.48,559.02 163.40,558.60 C171.32,558.18 187.17,557.38 195.10,556.50 C203.03,555.62 205.18,554.02 211.00,553.30 C216.82,552.58 224.33,552.25 230.00,552.20 C235.67,552.15 240.70,552.60 245.00,553.00 C249.30,553.40 248.72,553.93 255.80,554.60 C262.88,555.27 279.57,556.73 287.50,557.00 C295.43,557.27 295.48,556.47 303.40,556.20 C311.32,555.93 325.77,555.67 335.00,555.40 C344.23,555.13 349.55,554.68 358.80,554.60 C368.05,554.52 382.58,554.50 390.50,554.90 C398.42,555.30 399.17,556.13 406.30,557.00 C413.43,557.87 424.05,560.02 433.30,560.10 C442.55,560.18 454.02,558.68 461.80,557.50 C469.58,556.32 474.33,554.40 480.00,553.00 C485.67,551.60 489.20,550.02 495.80,549.10 C502.40,548.18 513.78,547.77 519.60,547.50 C525.42,547.23 524.10,547.23 530.70,547.50 C537.30,547.77 549.17,548.45 559.20,549.10 C569.23,549.75 582.98,551.07 590.90,551.40 C598.82,551.73 600.90,551.93 606.70,551.10 C612.50,550.27 619.62,548.25 625.70,546.40 C631.78,544.55 638.18,542.12 643.20,540.00 C648.22,537.88 651.32,535.17 655.80,533.70 C660.28,532.23 665.08,532.07 670.10,531.20 C675.12,530.33 680.35,529.13 685.90,528.50 C691.45,527.87 699.17,527.27 703.40,527.40 C707.63,527.53 708.53,528.93 711.30,529.30 C714.07,529.67 717.23,529.55 720.00,529.60 C722.77,529.65 723.93,529.27 727.90,529.60 C731.87,529.93 737.20,530.87 743.80,531.60 C750.40,532.33 761.17,533.12 767.50,534.00 C773.83,534.88 775.20,536.58 781.80,536.90 C788.40,537.22 801.03,535.98 807.10,535.90 C813.17,535.82 814.50,535.98 818.20,536.40 C821.90,536.82 825.33,538.58 829.30,538.40 C833.27,538.22 836.45,535.30 842.00,535.30 C847.55,535.30 855.73,537.77 862.60,538.40 C869.47,539.03 876.60,538.30 883.20,539.10 C889.80,539.90 895.60,542.33 902.20,543.20 C908.80,544.07 915.67,543.58 922.80,544.30 C929.93,545.02 938.80,546.43 945.00,547.50 C951.20,548.57 955.38,549.50 960.00,550.70 C964.62,551.90 967.42,553.82 972.70,554.70 C977.98,555.58 983.25,555.87 991.70,556.00 C1000.15,556.13 1015.22,555.40 1023.40,555.50 C1031.58,555.60 1035.53,556.73 1040.80,556.60 C1046.07,556.47 1050.25,557.40 1055.00,554.70 C1059.75,552.00 1065.60,543.43 1069.30,540.40 C1073.00,537.37 1074.30,537.60 1077.20,536.50 C1080.10,535.40 1083.78,535.38 1086.70,533.80 C1089.62,532.22 1091.53,528.85 1094.70,527.00 C1097.87,525.15 1102.80,523.57 1105.70,522.70 C1108.60,521.83 1108.13,523.73 1112.10,521.80 C1116.07,519.87 1125.02,512.88 1129.50,511.10 C1133.98,509.32 1136.10,510.57 1139.00,511.10 C1141.90,511.63 1143.20,513.58 1146.90,514.30 C1150.60,515.02 1156.97,514.87 1161.20,515.40 C1165.43,515.93 1167.55,520.77 1172.30,517.50 C1177.05,514.23 1185.63,500.10 1189.70,495.80 C1193.77,491.50 1194.40,492.60 1196.70,491.70 C1199.00,490.80 1201.47,490.50 1203.50,490.40 C1205.53,490.30 1206.65,490.43 1208.90,491.10 C1211.15,491.77 1214.32,493.50 1217.00,494.40 C1219.68,495.30 1222.32,496.00 1225.00,496.50 C1227.68,497.00 1229.95,496.67 1233.10,497.40 C1236.25,498.13 1240.98,500.77 1243.90,500.90 C1246.82,501.03 1248.58,499.17 1250.60,498.20 C1252.62,497.23 1255.10,495.62 1256.00,495.10" fill="none" stroke="#2b2bff" stroke-width="1.3"/></g><g><circle cx="1256.5" cy="384.3" r="11.6" fill="#fff"/><circle cx="1256.5" cy="384.3" r="9.7" fill="#fff" stroke="#9c27b0" stroke-width="1.6"/><path d="M1259.28,379.06 L1251.92,385.0 L1256.13,385.0 L1253.29,389.92 L1261.06,383.22 L1257.25,383.22 Z" fill="#9c27b0"/><circle cx="1263.4" cy="377.5" r="4" fill="#fff"/><circle cx="1263.4" cy="377.5" r="2.6" fill="#f23645"/></g><text x="1430.6" y="91.8" font-size="13" fill="#000000" textLength="55.4" lengthAdjust="spacingAndGlyphs">0.030000</text><text x="1430.6" y="137.8" font-size="13" fill="#000000" textLength="55.4" lengthAdjust="spacingAndGlyphs">0.024000</text><text x="1430.6" y="175.3" font-size="13" fill="#000000" textLength="55.4" lengthAdjust="spacingAndGlyphs">0.020000</text><text x="1430.6" y="221.3" font-size="13" fill="#000000" textLength="55.4" lengthAdjust="spacingAndGlyphs">0.016000</text><text x="1430.6" y="264.3" font-size="13" fill="#000000" textLength="55.4" lengthAdjust="spacingAndGlyphs">0.013000</text><text x="1430.6" y="298.3" font-size="13" fill="#000000" textLength="55.4" lengthAdjust="spacingAndGlyphs">0.011000</text><text x="1430.6" y="328.3" font-size="13" fill="#000000" textLength="55.4" lengthAdjust="spacingAndGlyphs">0.009500</text><text x="1430.6" y="363.3" font-size="13" fill="#000000" textLength="55.4" lengthAdjust="spacingAndGlyphs">0.008000</text><text x="1430.6" y="396.8" font-size="13" fill="#000000" textLength="55.4" lengthAdjust="spacingAndGlyphs">0.006800</text><text x="1430.6" y="420.3" font-size="13" fill="#000000" textLength="33.3" lengthAdjust="spacingAndGlyphs">80.00</text><text x="1430.6" y="463.3" font-size="13" fill="#000000" textLength="33.3" lengthAdjust="spacingAndGlyphs">40.00</text><text x="1430.6" y="516.3" font-size="13" fill="#000000" textLength="55.4" lengthAdjust="spacingAndGlyphs">0.002000</text><text x="1430.6" y="557.3" font-size="13" fill="#000000" textLength="55.4" lengthAdjust="spacingAndGlyphs">0.000000</text><path d="M1330,58 H1421 V75 H1330 Q1328,75 1328,73 V60 Q1328,58 1330,58 Z" fill="#089981"/><text x="1333.2" y="70.8" font-size="12" fill="#fff" textLength="83.4" lengthAdjust="spacingAndGlyphs">PENGUUSDT.P</text><path d="M1422,61 H1492 V73 Q1492,75 1490,75 H1422 Z" fill="#089981"/><text x="1430.4" y="70.8" font-size="12" fill="#fff" textLength="55.8" lengthAdjust="spacingAndGlyphs">0.033316</text><rect x="1425" y="31" width="76" height="26" rx="4" fill="#fff" stroke="#f1f1f1" stroke-width="2"/><text x="1434.4" y="48" font-size="12.5" fill="#000000" textLength="31.1" lengthAdjust="spacingAndGlyphs">USDT</text><text x="17.85" y="47.1" font-size="13" fill="#000000" textLength="42.05" lengthAdjust="spacingAndGlyphs" >PENGU</text><text x="62.50" y="47.1" font-size="13" fill="#000000" textLength="4.76" lengthAdjust="spacingAndGlyphs" >/</text><text x="70.55" y="47.1" font-size="13" fill="#000000" textLength="51.95" lengthAdjust="spacingAndGlyphs" >TetherUS</text><text x="125.78" y="47.1" font-size="13" fill="#000000" textLength="68.59" lengthAdjust="spacingAndGlyphs" >PERPETUAL</text><text x="197.71" y="47.1" font-size="13" fill="#000000" textLength="65.23" lengthAdjust="spacingAndGlyphs" >CONTRACT</text><text x="265.96" y="47.1" font-size="13" fill="#000000" textLength="5.33" lengthAdjust="spacingAndGlyphs" >·</text><text x="274.33" y="47.1" font-size="13" fill="#000000" textLength="14.90" lengthAdjust="spacingAndGlyphs" >4h</text><text x="291.15" y="47.1" font-size="13" fill="#000000" textLength="5.66" lengthAdjust="spacingAndGlyphs" >·</text><text x="298.55" y="47.1" font-size="13" fill="#000000" textLength="52.93" lengthAdjust="spacingAndGlyphs" >BINANCE</text><text x="358.23" y="47.1" font-size="13" fill="#000000" textLength="9.88" lengthAdjust="spacingAndGlyphs" >O</text><text x="428.40" y="47.1" font-size="13" fill="#000000" textLength="9.93" lengthAdjust="spacingAndGlyphs" >H</text><text x="496.83" y="47.1" font-size="13" fill="#000000" textLength="6.75" lengthAdjust="spacingAndGlyphs" >L</text><text x="564.11" y="47.1" font-size="13" fill="#000000" textLength="8.53" lengthAdjust="spacingAndGlyphs" >C</text><text x="368.08" y="47.1" font-size="13" fill="#089981" textLength="53.95" lengthAdjust="spacingAndGlyphs" >0.032476</text><text x="437.90" y="47.1" font-size="13" fill="#089981" textLength="52.25" lengthAdjust="spacingAndGlyphs" >0.033710</text><text x="503.79" y="47.1" font-size="13" fill="#089981" textLength="53.37" lengthAdjust="spacingAndGlyphs" >0.032140</text><text x="572.59" y="47.1" font-size="13" fill="#089981" textLength="53.64" lengthAdjust="spacingAndGlyphs" >0.033316</text><text x="633.04" y="47.1" font-size="13" fill="#089981" textLength="62.82" lengthAdjust="spacingAndGlyphs" >+0.000840</text><text x="699.73" y="47.1" font-size="13" fill="#089981" textLength="52.76" lengthAdjust="spacingAndGlyphs" >(+2.59%)</text><text x="18.54" y="63.7" font-size="13" fill="#000000" textLength="17.06" lengthAdjust="spacingAndGlyphs" >Vol</text><text x="38.27" y="63.7" font-size="13" fill="#000000" textLength="5.00" lengthAdjust="spacingAndGlyphs" >·</text><text x="45.76" y="63.7" font-size="13" fill="#000000" textLength="41.84" lengthAdjust="spacingAndGlyphs" >PENGU</text><text x="94.55" y="63.7" font-size="13" fill="#22ab94" textLength="24.77" lengthAdjust="spacingAndGlyphs" >3.03</text><text x="120.88" y="63.7" font-size="13" fill="#22ab94" textLength="8.48" lengthAdjust="spacingAndGlyphs" >B</text><text x="18.60" y="81.1" font-size="13" fill="#000000" textLength="13.40" lengthAdjust="spacingAndGlyphs" >All</text><text x="35.37" y="81.1" font-size="13" fill="#000000" textLength="30.80" lengthAdjust="spacingAndGlyphs" >Chart</text><text x="70.18" y="81.1" font-size="13" fill="#000000" textLength="47.46" lengthAdjust="spacingAndGlyphs" >Patterns</text><text x="121.15" y="81.1" font-size="13" fill="#000000" textLength="27.96" lengthAdjust="spacingAndGlyphs" >(Last</text><text x="153.40" y="81.1" font-size="13" fill="#000000" textLength="51.03" lengthAdjust="spacingAndGlyphs" >Awaiting,</text><text x="208.00" y="81.1" font-size="13" fill="#000000" textLength="18.21" lengthAdjust="spacingAndGlyphs" >All)</text><text x="17.62" y="418.2" font-size="13" fill="#000000" textLength="81.36" lengthAdjust="spacingAndGlyphs" >RSI (14, close)</text><text x="104.94" y="418.2" font-size="13" fill="#7e57c2" textLength="32.85" lengthAdjust="spacingAndGlyphs" >75.90</text><text x="144.06" y="418.2" font-size="13" fill="#fdd835" textLength="31.84" lengthAdjust="spacingAndGlyphs" >72.79</text><text x="17.60" y="502.3" font-size="13" fill="#000000" textLength="119.40" lengthAdjust="spacingAndGlyphs" >MACD (12, 26, close)</text><text x="143.80" y="502.3" font-size="13" fill="#22ab94" textLength="50.74" lengthAdjust="spacingAndGlyphs" >0.000117</text><text x="201.17" y="502.3" font-size="13" fill="#2b2bff" textLength="54.97" lengthAdjust="spacingAndGlyphs" >0.002825</text><text x="263.08" y="502.3" font-size="13" fill="#ffad00" textLength="54.36" lengthAdjust="spacingAndGlyphs" >0.002708</text><g clip-path="url(#timec)"><text x="14.2" y="587" font-size="12.3" fill="#000000" text-anchor="middle" font-weight="normal">11</text><text x="86.2" y="587" font-size="12.3" fill="#000000" text-anchor="middle" font-weight="normal">13</text><text x="158.2" y="587" font-size="12.3" fill="#000000" text-anchor="middle" font-weight="normal">15</text><text x="230.2" y="587" font-size="12.3" fill="#000000" text-anchor="middle" font-weight="normal">17</text><text x="302.2" y="587" font-size="12.3" fill="#000000" text-anchor="middle" font-weight="normal">19</text><text x="374.2" y="587" font-size="12.3" fill="#000000" text-anchor="middle" font-weight="normal">21</text><text x="446.2" y="587" font-size="12.3" fill="#000000" text-anchor="middle" font-weight="normal">23</text><text x="518.2" y="587" font-size="12.3" fill="#000000" text-anchor="middle" font-weight="normal">25</text><text x="590.2" y="587" font-size="12.3" fill="#000000" text-anchor="middle" font-weight="normal">27</text><text x="662.2" y="587" font-size="12.3" fill="#000000" text-anchor="middle" font-weight="normal">29</text><text x="734.2" y="587" font-size="12.3" fill="#000000" text-anchor="middle" font-weight="bold">Jul</text><text x="806.2" y="587" font-size="12.3" fill="#000000" text-anchor="middle" font-weight="normal">3</text><text x="878.2" y="587" font-size="12.3" fill="#000000" text-anchor="middle" font-weight="normal">5</text><text x="950.2" y="587" font-size="12.3" fill="#000000" text-anchor="middle" font-weight="normal">7</text><text x="1022.2" y="587" font-size="12.3" fill="#000000" text-anchor="middle" font-weight="normal">9</text><text x="1094.2" y="587" font-size="12.3" fill="#000000" text-anchor="middle" font-weight="normal">11</text><text x="1166.2" y="587" font-size="12.3" fill="#000000" text-anchor="middle" font-weight="normal">13</text><text x="1238.2" y="587" font-size="12.3" fill="#000000" text-anchor="middle" font-weight="normal">15</text><text x="1310.2" y="587" font-size="12.3" fill="#000000" text-anchor="middle" font-weight="normal">17</text><text x="1382.2" y="587" font-size="12.3" fill="#000000" text-anchor="middle" font-weight="normal">19</text></g><g fill="#000"><path d="M9.9,608.1 H18.1 V617.8 H13.7 V612 H9.9 Z"/><circle cx="21.1" cy="609.9" r="1.85"/><path d="M23.9,608.1 H29.7 L26.1,617.8 H21.1 Z"/></g><text x="33.3" y="618.7" font-size="13.7" fill="#000000" textLength="74.1" lengthAdjust="spacingAndGlyphs" stroke="#000" stroke-width="0.3">TradingView</text></svg></body></html>
